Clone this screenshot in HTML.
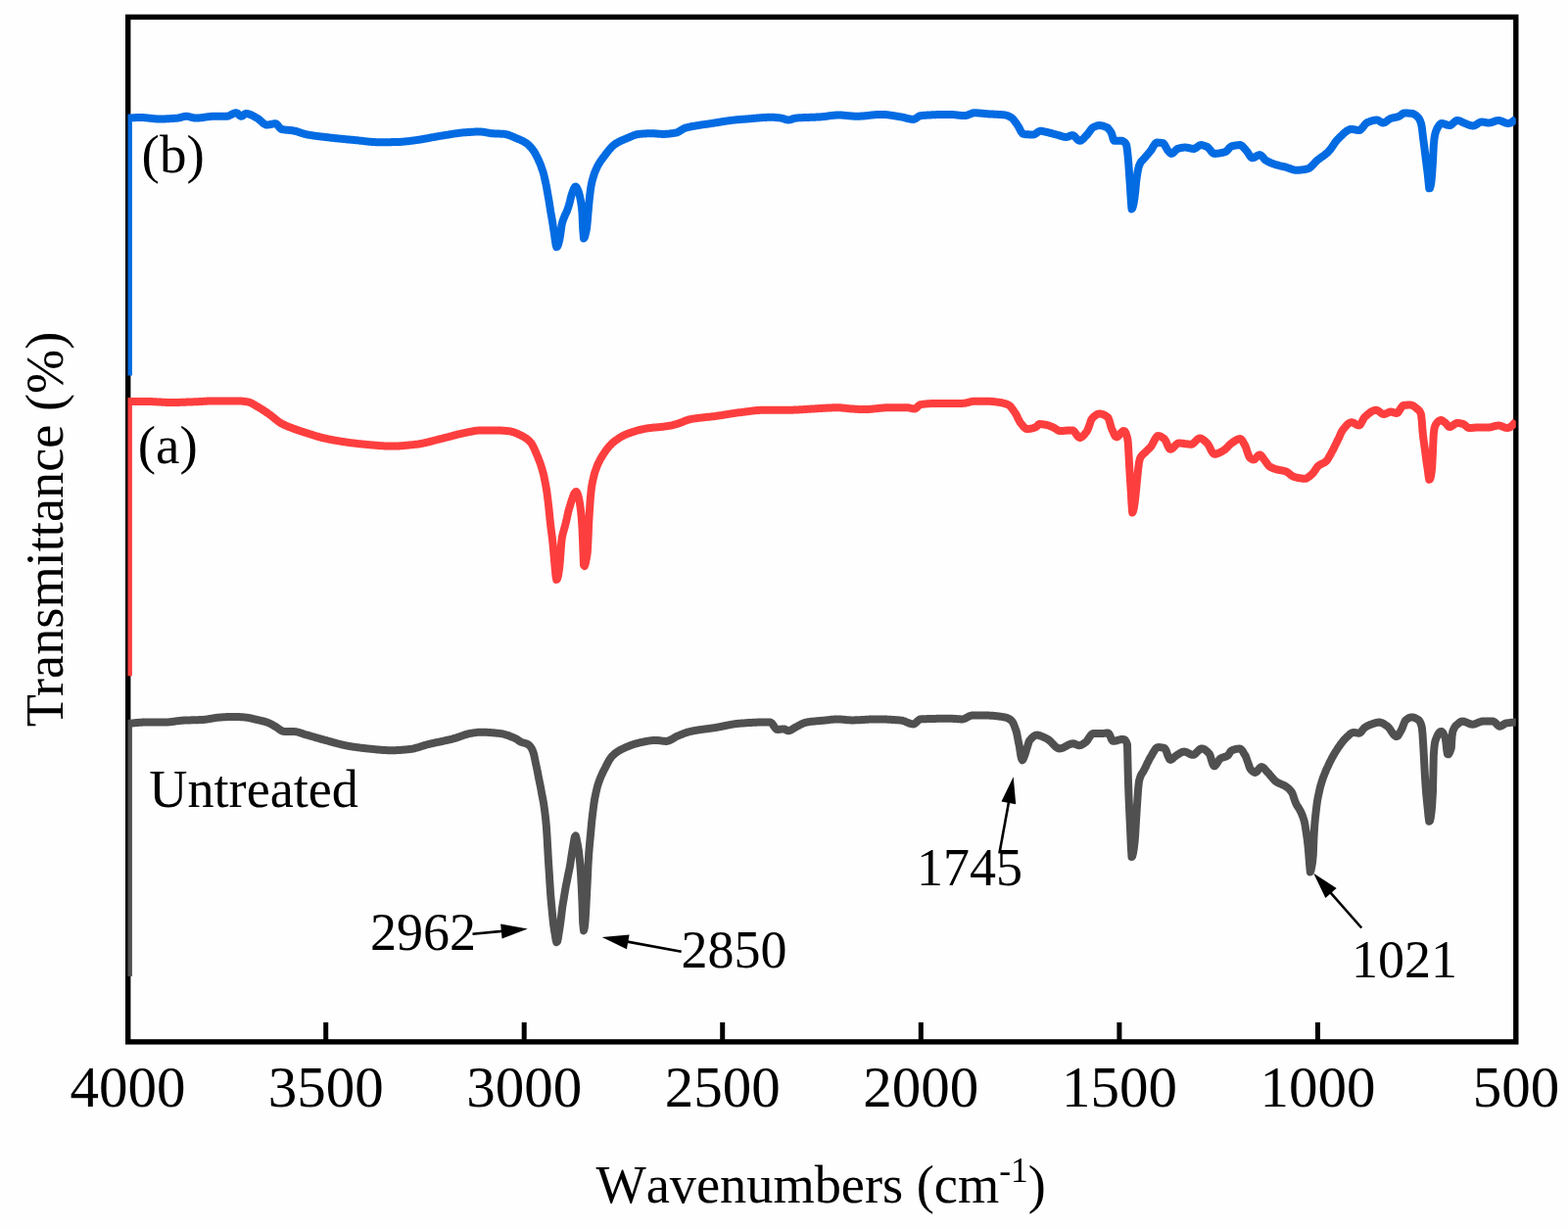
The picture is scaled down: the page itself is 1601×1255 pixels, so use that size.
<!DOCTYPE html><html><head><meta charset="utf-8"><title>FTIR spectra</title><style>html,body{margin:0;padding:0;background:#fefefe;overflow:hidden}svg{display:block}</style></head><body><svg width="1601" height="1255" viewBox="0 0 1601 1255">
<defs><clipPath id="c"><rect x="130.5" y="0" width="1417.3" height="1255"/></clipPath></defs>
<rect width="1601" height="1255" fill="#fefefe"/>
<rect x="130.7" y="17.4" width="1417.10" height="1046.50" fill="none" stroke="#000" stroke-width="5.4"/>
<line x1="332.7" y1="1044" x2="332.7" y2="1063.9" stroke="#000" stroke-width="5"/>
<line x1="535.2" y1="1044" x2="535.2" y2="1063.9" stroke="#000" stroke-width="5"/>
<line x1="737.7" y1="1044" x2="737.7" y2="1063.9" stroke="#000" stroke-width="5"/>
<line x1="940.3" y1="1044" x2="940.3" y2="1063.9" stroke="#000" stroke-width="5"/>
<line x1="1142.9" y1="1044" x2="1142.9" y2="1063.9" stroke="#000" stroke-width="5"/>
<line x1="1345.5" y1="1044" x2="1345.5" y2="1063.9" stroke="#000" stroke-width="5"/>
<g clip-path="url(#c)" fill="none" stroke-width="8" stroke-linejoin="round" stroke-linecap="butt">
<polyline points="130.9,383.6 130.9,120.5 132.5,120.6 133.2,120.5 134.0,120.5 134.8,120.4 135.5,120.3 136.2,120.3 137.0,120.2 137.8,120.2 138.5,120.1 139.2,120.1 140.0,120.1 140.8,120.0 141.5,120.0 142.2,120.0 143.0,120.0 143.8,120.0 144.5,120.0 145.2,120.0 146.0,120.1 146.8,120.1 147.5,120.2 148.2,120.2 149.0,120.3 149.8,120.4 150.5,120.4 151.2,120.5 152.0,120.6 152.8,120.7 153.5,120.8 154.2,120.9 155.0,121.0 155.8,121.1 156.5,121.1 157.2,121.2 158.0,121.3 158.8,121.3 159.5,121.4 160.2,121.4 161.0,121.5 161.8,121.5 162.5,121.5 163.2,121.5 164.0,121.5 164.8,121.5 165.5,121.5 166.2,121.5 167.0,121.4 167.8,121.4 168.5,121.4 169.2,121.4 170.0,121.3 170.8,121.3 171.5,121.3 172.2,121.2 173.0,121.2 173.8,121.1 174.5,121.1 175.2,121.1 176.0,121.0 176.8,121.0 177.5,120.9 178.2,120.8 179.0,120.8 179.8,120.7 180.5,120.7 181.2,120.6 182.0,120.5 182.8,120.4 183.5,120.2 184.2,120.0 185.0,119.8 185.8,119.5 186.5,119.3 187.2,119.1 188.0,119.0 188.8,118.8 189.5,118.8 190.2,118.8 191.0,118.8 191.8,118.9 192.5,119.0 193.2,119.2 194.0,119.4 194.8,119.6 195.5,119.8 196.2,120.0 197.0,120.2 197.8,120.4 198.5,120.5 199.2,120.6 200.0,120.6 200.8,120.6 201.5,120.6 202.2,120.5 203.0,120.5 203.8,120.4 204.5,120.3 205.2,120.2 206.0,120.2 206.8,120.1 207.5,119.9 208.2,119.8 209.0,119.7 209.8,119.6 210.5,119.5 211.2,119.4 212.0,119.3 212.8,119.2 213.5,119.1 214.2,119.0 215.0,118.9 215.8,118.9 216.5,118.8 217.2,118.8 218.0,118.8 218.8,118.8 219.5,118.8 220.2,118.8 221.0,118.8 221.8,118.8 222.5,118.8 223.2,118.8 224.0,118.8 224.8,118.8 225.5,118.8 226.2,118.8 227.0,118.8 227.8,118.8 228.5,118.8 229.2,118.8 230.0,118.8 230.8,118.8 231.5,118.7 232.2,118.7 233.0,118.5 233.8,118.2 234.5,117.9 235.2,117.5 236.0,117.1 236.8,116.7 237.5,116.4 238.2,116.0 239.0,115.7 239.8,115.5 240.5,115.3 241.2,115.2 242.0,115.5 242.8,116.0 243.5,116.7 244.2,117.5 245.0,118.2 245.8,118.7 246.5,118.7 247.2,118.5 248.0,118.0 248.8,117.4 249.5,116.8 250.2,116.3 251.0,116.0 251.8,116.0 252.5,116.1 253.2,116.2 254.0,116.4 254.8,116.7 255.5,117.0 256.2,117.3 257.0,117.6 257.8,118.0 258.5,118.4 259.2,118.8 260.0,119.2 260.8,119.7 261.5,120.1 262.2,120.5 263.0,120.9 263.8,121.4 264.5,122.0 265.2,122.6 266.0,123.3 266.8,124.0 267.5,124.7 268.2,125.4 269.0,126.0 269.8,126.5 270.5,126.9 271.2,127.3 272.0,127.5 272.8,127.5 273.5,127.5 274.2,127.4 275.0,127.3 275.8,127.1 276.5,127.0 277.2,126.8 278.0,126.6 278.8,126.5 279.5,126.4 280.2,126.3 281.0,126.3 281.8,126.3 282.5,126.8 283.2,127.5 284.0,128.4 284.8,129.4 285.5,130.3 286.2,131.1 287.0,131.7 287.8,132.0 288.5,132.1 289.2,132.3 290.0,132.4 290.8,132.5 291.5,132.6 292.2,132.7 293.0,132.7 293.8,132.8 294.5,132.9 295.2,132.9 296.0,133.0 296.8,133.1 297.5,133.1 298.2,133.2 299.0,133.3 299.8,133.5 300.5,133.6 301.2,133.8 302.0,134.0 302.8,134.2 303.5,134.4 304.2,134.6 305.0,134.9 305.8,135.2 306.5,135.4 307.2,135.7 308.0,135.9 308.8,136.2 309.5,136.4 310.2,136.6 311.0,136.9 311.8,137.0 312.5,137.2 313.2,137.3 314.0,137.5 314.8,137.6 315.5,137.8 316.2,137.9 317.0,138.0 317.8,138.1 318.5,138.2 319.2,138.4 320.0,138.5 320.8,138.6 321.5,138.7 322.2,138.8 323.0,138.9 323.8,139.0 324.5,139.1 325.2,139.2 326.0,139.3 326.8,139.4 327.5,139.5 328.2,139.5 329.0,139.6 329.8,139.7 330.5,139.8 331.2,139.9 332.0,140.0 332.8,140.1 333.5,140.1 334.2,140.2 335.0,140.3 335.8,140.4 336.5,140.5 337.2,140.6 338.0,140.7 338.8,140.7 339.5,140.8 340.2,140.9 341.0,141.0 341.8,141.1 342.5,141.2 343.2,141.2 344.0,141.3 344.8,141.4 345.5,141.5 346.2,141.5 347.0,141.6 347.8,141.7 348.5,141.8 349.2,141.8 350.0,141.9 350.8,142.0 351.5,142.1 352.2,142.1 353.0,142.2 353.8,142.3 354.5,142.4 355.2,142.4 356.0,142.5 356.8,142.6 357.5,142.6 358.2,142.7 359.0,142.8 359.8,142.8 360.5,142.9 361.2,143.0 362.0,143.1 362.8,143.1 363.5,143.2 364.2,143.3 365.0,143.3 365.8,143.4 366.5,143.5 367.2,143.6 368.0,143.7 368.8,143.8 369.5,143.8 370.2,143.9 371.0,144.0 371.8,144.1 372.5,144.2 373.2,144.3 374.0,144.4 374.8,144.4 375.5,144.5 376.2,144.6 377.0,144.7 377.8,144.7 378.5,144.8 379.2,144.9 380.0,144.9 380.8,145.0 381.5,145.0 382.2,145.1 383.0,145.1 383.8,145.2 384.5,145.2 385.2,145.2 386.0,145.2 386.8,145.2 387.5,145.2 388.2,145.2 389.0,145.2 389.8,145.2 390.5,145.2 391.2,145.2 392.0,145.2 392.8,145.2 393.5,145.2 394.2,145.2 395.0,145.2 395.8,145.2 396.5,145.2 397.2,145.2 398.0,145.2 398.8,145.2 399.5,145.1 400.2,145.1 401.0,145.1 401.8,145.1 402.5,145.1 403.2,145.1 404.0,145.1 404.8,145.0 405.5,145.0 406.2,145.0 407.0,145.0 407.8,144.9 408.5,144.9 409.2,144.9 410.0,144.8 410.8,144.8 411.5,144.7 412.2,144.6 413.0,144.6 413.8,144.5 414.5,144.4 415.2,144.3 416.0,144.2 416.8,144.2 417.5,144.1 418.2,144.0 419.0,143.9 419.8,143.8 420.5,143.7 421.2,143.6 422.0,143.5 422.8,143.4 423.5,143.3 424.2,143.2 425.0,143.1 425.8,143.0 426.5,142.9 427.2,142.8 428.0,142.7 428.8,142.6 429.5,142.4 430.2,142.3 431.0,142.2 431.8,142.1 432.5,141.9 433.2,141.8 434.0,141.7 434.8,141.5 435.5,141.4 436.2,141.3 437.0,141.1 437.8,141.0 438.5,140.8 439.2,140.7 440.0,140.5 440.8,140.4 441.5,140.2 442.2,140.1 443.0,140.0 443.8,139.8 444.5,139.7 445.2,139.6 446.0,139.4 446.8,139.3 447.5,139.2 448.2,139.0 449.0,138.9 449.8,138.8 450.5,138.7 451.2,138.6 452.0,138.4 452.8,138.3 453.5,138.2 454.2,138.1 455.0,137.9 455.8,137.8 456.5,137.7 457.2,137.6 458.0,137.5 458.8,137.3 459.5,137.2 460.2,137.1 461.0,137.0 461.8,136.9 462.5,136.7 463.2,136.6 464.0,136.5 464.8,136.4 465.5,136.3 466.2,136.2 467.0,136.1 467.8,136.0 468.5,135.9 469.2,135.8 470.0,135.7 470.8,135.6 471.5,135.6 472.2,135.5 473.0,135.4 473.8,135.3 474.5,135.3 475.2,135.2 476.0,135.2 476.8,135.1 477.5,135.1 478.2,135.0 479.0,135.0 479.8,134.9 480.5,134.9 481.2,134.8 482.0,134.8 482.8,134.7 483.5,134.7 484.2,134.6 485.0,134.6 485.8,134.6 486.5,134.6 487.2,134.5 488.0,134.5 488.8,134.5 489.5,134.5 490.2,134.5 491.0,134.5 491.8,134.6 492.5,134.7 493.2,134.7 494.0,134.9 494.8,135.0 495.5,135.1 496.2,135.3 497.0,135.4 497.8,135.5 498.5,135.7 499.2,135.8 500.0,135.9 500.8,136.1 501.5,136.2 502.2,136.2 503.0,136.3 503.8,136.3 504.5,136.4 505.2,136.4 506.0,136.4 506.8,136.5 507.5,136.5 508.2,136.5 509.0,136.6 509.8,136.6 510.5,136.6 511.2,136.7 512.0,136.7 512.8,136.7 513.5,136.8 514.2,136.8 515.0,136.9 515.8,137.0 516.5,137.1 517.2,137.3 518.0,137.5 518.8,137.7 519.5,137.9 520.2,138.2 521.0,138.5 521.8,138.8 522.5,139.1 523.2,139.4 524.0,139.7 524.8,140.1 525.5,140.4 526.2,140.7 527.0,141.0 527.8,141.4 528.5,141.7 529.2,142.0 530.0,142.3 530.8,142.6 531.5,142.9 532.2,143.3 533.0,143.7 533.8,144.0 534.5,144.4 535.2,144.8 536.0,145.3 536.8,145.8 537.5,146.2 538.2,146.8 539.0,147.4 539.8,148.1 540.5,148.8 541.2,149.6 542.0,150.4 542.8,151.3 543.5,152.2 544.2,153.2 545.0,154.3 545.8,155.5 546.5,156.7 547.2,158.1 548.0,159.6 548.8,161.1 549.5,162.7 550.2,164.3 551.0,166.0 551.8,167.9 552.5,169.8 553.2,171.9 554.0,174.2 554.8,176.6 555.5,179.4 556.2,182.5 557.0,186.0 557.8,189.8 558.5,193.7 559.2,197.7 560.0,202.1 560.8,206.7 561.5,211.3 562.2,215.9 563.0,220.4 563.8,225.0 564.5,229.5 565.2,234.0 566.0,239.4 566.8,245.0 567.5,249.6 568.2,252.1 569.0,251.9 569.8,250.3 570.5,247.8 571.2,245.0 572.0,240.7 572.8,235.0 573.5,229.9 574.2,226.9 575.0,224.5 575.8,222.5 576.5,220.7 577.2,219.1 578.0,217.5 578.8,215.8 579.5,213.9 580.2,211.7 581.0,209.1 581.8,206.2 582.5,203.3 583.2,200.4 584.0,197.8 584.8,195.6 585.5,193.8 586.2,192.1 587.0,190.9 587.8,190.5 588.5,191.1 589.2,192.3 590.0,194.0 590.8,196.0 591.5,198.3 592.2,201.3 593.0,205.3 593.8,210.6 594.5,217.4 595.2,234.0 596.0,243.4 596.8,242.4 597.5,240.3 598.2,237.3 599.0,233.5 599.8,225.9 600.5,217.3 601.2,209.4 602.0,201.4 602.8,194.7 603.5,190.2 604.2,186.5 605.0,183.4 605.8,180.8 606.5,178.4 607.2,176.3 608.0,174.4 608.8,172.6 609.5,171.0 610.2,169.5 611.0,168.2 611.8,166.9 612.5,165.7 613.2,164.5 614.0,163.4 614.8,162.4 615.5,161.4 616.2,160.4 617.0,159.4 617.8,158.4 618.5,157.4 619.2,156.5 620.0,155.5 620.8,154.5 621.5,153.6 622.2,152.7 623.0,151.8 623.8,151.0 624.5,150.1 625.2,149.4 626.0,148.7 626.8,148.1 627.5,147.5 628.2,147.0 629.0,146.5 629.8,146.0 630.5,145.6 631.2,145.2 632.0,144.8 632.8,144.4 633.5,144.0 634.2,143.7 635.0,143.3 635.8,143.0 636.5,142.7 637.2,142.4 638.0,142.1 638.8,141.8 639.5,141.5 640.2,141.1 641.0,140.8 641.8,140.5 642.5,140.2 643.2,139.8 644.0,139.5 644.8,139.2 645.5,138.9 646.2,138.6 647.0,138.3 647.8,138.0 648.5,137.8 649.2,137.5 650.0,137.3 650.8,137.2 651.5,137.0 652.2,136.9 653.0,136.9 653.8,136.8 654.5,136.7 655.2,136.7 656.0,136.6 656.8,136.6 657.5,136.5 658.2,136.5 659.0,136.4 659.8,136.4 660.5,136.3 661.2,136.3 662.0,136.3 662.8,136.3 663.5,136.3 664.2,136.3 665.0,136.2 665.8,136.3 666.5,136.3 667.2,136.3 668.0,136.3 668.8,136.4 669.5,136.4 670.2,136.5 671.0,136.6 671.8,136.6 672.5,136.7 673.2,136.7 674.0,136.8 674.8,136.8 675.5,136.9 676.2,136.9 677.0,136.9 677.8,136.9 678.5,136.9 679.2,136.9 680.0,136.8 680.8,136.8 681.5,136.7 682.2,136.7 683.0,136.6 683.8,136.5 684.5,136.4 685.2,136.3 686.0,136.2 686.8,136.1 687.5,136.0 688.2,135.9 689.0,135.8 689.8,135.6 690.5,135.5 691.2,135.3 692.0,134.9 692.8,134.6 693.5,134.2 694.2,133.7 695.0,133.2 695.8,132.8 696.5,132.3 697.2,131.8 698.0,131.4 698.8,131.1 699.5,130.8 700.2,130.5 701.0,130.3 701.8,130.1 702.5,129.9 703.2,129.8 704.0,129.6 704.8,129.5 705.5,129.3 706.2,129.2 707.0,129.0 707.8,128.9 708.5,128.8 709.2,128.6 710.0,128.5 710.8,128.4 711.5,128.3 712.2,128.1 713.0,128.0 713.8,127.9 714.5,127.8 715.2,127.7 716.0,127.5 716.8,127.4 717.5,127.3 718.2,127.2 719.0,127.1 719.8,127.0 720.5,126.9 721.2,126.8 722.0,126.7 722.8,126.6 723.5,126.5 724.2,126.4 725.0,126.2 725.8,126.1 726.5,126.0 727.2,125.9 728.0,125.8 728.8,125.7 729.5,125.5 730.2,125.4 731.0,125.3 731.8,125.2 732.5,125.1 733.2,124.9 734.0,124.8 734.8,124.7 735.5,124.6 736.2,124.4 737.0,124.3 737.8,124.2 738.5,124.1 739.2,123.9 740.0,123.8 740.8,123.7 741.5,123.6 742.2,123.5 743.0,123.4 743.8,123.3 744.5,123.2 745.2,123.1 746.0,123.0 746.8,122.9 747.5,122.8 748.2,122.7 749.0,122.6 749.8,122.5 750.5,122.5 751.2,122.4 752.0,122.3 752.8,122.2 753.5,122.2 754.2,122.1 755.0,122.1 755.8,122.0 756.5,121.9 757.2,121.9 758.0,121.8 758.8,121.8 759.5,121.7 760.2,121.7 761.0,121.6 761.8,121.6 762.5,121.5 763.2,121.4 764.0,121.4 764.8,121.3 765.5,121.3 766.2,121.2 767.0,121.1 767.8,121.1 768.5,121.0 769.2,120.9 770.0,120.8 770.8,120.8 771.5,120.7 772.2,120.6 773.0,120.6 773.8,120.5 774.5,120.4 775.2,120.4 776.0,120.3 776.8,120.2 777.5,120.2 778.2,120.1 779.0,120.1 779.8,120.0 780.5,120.0 781.2,119.9 782.0,119.9 782.8,119.9 783.5,119.8 784.2,119.8 785.0,119.8 785.8,119.8 786.5,119.8 787.2,119.8 788.0,119.8 788.8,119.8 789.5,119.8 790.2,119.8 791.0,119.9 791.8,119.9 792.5,120.0 793.2,120.1 794.0,120.2 794.8,120.3 795.5,120.3 796.2,120.4 797.0,120.5 797.8,120.6 798.5,120.8 799.2,121.0 800.0,121.2 800.8,121.5 801.5,121.8 802.2,122.0 803.0,122.2 803.8,122.4 804.5,122.5 805.2,122.5 806.0,122.4 806.8,122.3 807.5,122.1 808.2,121.8 809.0,121.5 809.8,121.3 810.5,121.0 811.2,120.8 812.0,120.7 812.8,120.6 813.5,120.5 814.2,120.5 815.0,120.4 815.8,120.3 816.5,120.3 817.2,120.2 818.0,120.2 818.8,120.2 819.5,120.1 820.2,120.1 821.0,120.1 821.8,120.0 822.5,120.0 823.2,120.0 824.0,120.0 824.8,119.9 825.5,119.9 826.2,119.9 827.0,119.9 827.8,119.8 828.5,119.8 829.2,119.8 830.0,119.8 830.8,119.7 831.5,119.7 832.2,119.7 833.0,119.6 833.8,119.6 834.5,119.6 835.2,119.5 836.0,119.5 836.8,119.4 837.5,119.4 838.2,119.3 839.0,119.3 839.8,119.2 840.5,119.1 841.2,119.0 842.0,119.0 842.8,118.9 843.5,118.8 844.2,118.7 845.0,118.6 845.8,118.4 846.5,118.3 847.2,118.2 848.0,118.1 848.8,118.0 849.5,118.0 850.2,117.9 851.0,117.8 851.8,117.7 852.5,117.7 853.2,117.6 854.0,117.6 854.8,117.5 855.5,117.5 856.2,117.5 857.0,117.5 857.8,117.5 858.5,117.5 859.2,117.6 860.0,117.6 860.8,117.7 861.5,117.7 862.2,117.8 863.0,117.9 863.8,117.9 864.5,118.0 865.2,118.1 866.0,118.2 866.8,118.2 867.5,118.3 868.2,118.4 869.0,118.4 869.8,118.5 870.5,118.6 871.2,118.6 872.0,118.7 872.8,118.7 873.5,118.7 874.2,118.7 875.0,118.8 875.8,118.7 876.5,118.7 877.2,118.7 878.0,118.7 878.8,118.6 879.5,118.6 880.2,118.5 881.0,118.5 881.8,118.4 882.5,118.4 883.2,118.3 884.0,118.2 884.8,118.1 885.5,118.0 886.2,118.0 887.0,117.9 887.8,117.8 888.5,117.7 889.2,117.6 890.0,117.6 890.8,117.5 891.5,117.4 892.2,117.3 893.0,117.3 893.8,117.2 894.5,117.1 895.2,117.1 896.0,117.0 896.8,117.0 897.5,117.0 898.2,116.9 899.0,116.9 899.8,116.9 900.5,116.9 901.2,116.9 902.0,116.9 902.8,117.0 903.5,117.0 904.2,117.1 905.0,117.1 905.8,117.2 906.5,117.3 907.2,117.4 908.0,117.5 908.8,117.6 909.5,117.7 910.2,117.8 911.0,117.9 911.8,118.0 912.5,118.2 913.2,118.3 914.0,118.4 914.8,118.5 915.5,118.7 916.2,118.8 917.0,118.9 917.8,119.0 918.5,119.2 919.2,119.3 920.0,119.4 920.8,119.5 921.5,119.7 922.2,119.9 923.0,120.0 923.8,120.2 924.5,120.4 925.2,120.6 926.0,120.8 926.8,121.0 927.5,121.2 928.2,121.4 929.0,121.5 929.8,121.7 930.5,121.8 931.2,121.8 932.0,121.9 932.8,121.9 933.5,121.7 934.2,121.4 935.0,121.0 935.8,120.4 936.5,119.9 937.2,119.4 938.0,118.9 938.8,118.5 939.5,118.2 940.2,118.1 941.0,118.0 941.8,117.9 942.5,117.9 943.2,117.8 944.0,117.8 944.8,117.7 945.5,117.7 946.2,117.6 947.0,117.6 947.8,117.5 948.5,117.5 949.2,117.4 950.0,117.4 950.8,117.4 951.5,117.3 952.2,117.3 953.0,117.2 953.8,117.2 954.5,117.2 955.2,117.2 956.0,117.1 956.8,117.1 957.5,117.1 958.2,117.1 959.0,117.0 959.8,117.0 960.5,117.0 961.2,117.0 962.0,117.0 962.8,117.0 963.5,116.9 964.2,116.9 965.0,116.9 965.8,116.9 966.5,116.9 967.2,116.9 968.0,116.9 968.8,116.9 969.5,116.9 970.2,116.9 971.0,116.9 971.8,116.9 972.5,117.0 973.2,117.0 974.0,117.1 974.8,117.2 975.5,117.3 976.2,117.4 977.0,117.4 977.8,117.5 978.5,117.6 979.2,117.7 980.0,117.8 980.8,117.9 981.5,117.9 982.2,118.0 983.0,118.0 983.8,118.1 984.5,118.1 985.2,118.1 986.0,118.0 986.8,117.9 987.5,117.7 988.2,117.4 989.0,117.1 989.8,116.8 990.5,116.5 991.2,116.2 992.0,115.9 992.8,115.6 993.5,115.4 994.2,115.3 995.0,115.2 995.8,115.3 996.5,115.3 997.2,115.3 998.0,115.4 998.8,115.4 999.5,115.5 1000.2,115.5 1001.0,115.6 1001.8,115.7 1002.5,115.8 1003.2,115.8 1004.0,115.9 1004.8,116.0 1005.5,116.1 1006.2,116.1 1007.0,116.2 1007.8,116.3 1008.5,116.3 1009.2,116.4 1010.0,116.4 1010.8,116.5 1011.5,116.5 1012.2,116.5 1013.0,116.6 1013.8,116.6 1014.5,116.6 1015.2,116.7 1016.0,116.7 1016.8,116.7 1017.5,116.8 1018.2,116.8 1019.0,116.9 1019.8,116.9 1020.5,117.0 1021.2,117.0 1022.0,117.1 1022.8,117.1 1023.5,117.2 1024.2,117.3 1025.0,117.3 1025.8,117.4 1026.5,117.5 1027.2,117.7 1028.0,117.9 1028.8,118.1 1029.5,118.4 1030.2,118.8 1031.0,119.2 1031.8,119.6 1032.5,120.0 1033.2,120.5 1034.0,121.2 1034.8,122.1 1035.5,123.0 1036.2,124.0 1037.0,125.1 1037.8,126.1 1038.5,127.2 1039.2,128.2 1040.0,129.5 1040.8,131.0 1041.5,132.4 1042.2,133.8 1043.0,135.1 1043.8,136.1 1044.5,136.7 1045.2,136.9 1046.0,137.0 1046.8,137.1 1047.5,137.2 1048.2,137.2 1049.0,137.3 1049.8,137.3 1050.5,137.4 1051.2,137.4 1052.0,137.4 1052.8,137.5 1053.5,137.5 1054.2,137.5 1055.0,137.5 1055.8,137.4 1056.5,137.1 1057.2,136.7 1058.0,136.2 1058.8,135.6 1059.5,135.1 1060.2,134.6 1061.0,134.1 1061.8,133.9 1062.5,133.8 1063.2,133.8 1064.0,133.9 1064.8,134.1 1065.5,134.2 1066.2,134.4 1067.0,134.6 1067.8,134.7 1068.5,134.9 1069.2,135.1 1070.0,135.2 1070.8,135.4 1071.5,135.6 1072.2,135.8 1073.0,136.0 1073.8,136.2 1074.5,136.4 1075.2,136.6 1076.0,136.8 1076.8,137.0 1077.5,137.2 1078.2,137.4 1079.0,137.6 1079.8,137.8 1080.5,138.0 1081.2,138.2 1082.0,138.5 1082.8,138.7 1083.5,139.0 1084.2,139.2 1085.0,139.4 1085.8,139.6 1086.5,139.8 1087.2,139.9 1088.0,140.0 1088.8,140.0 1089.5,139.9 1090.2,139.7 1091.0,139.4 1091.8,139.1 1092.5,138.8 1093.2,138.5 1094.0,138.2 1094.8,138.1 1095.5,138.2 1096.2,138.5 1097.0,139.1 1097.8,139.8 1098.5,140.6 1099.2,141.5 1100.0,142.3 1100.8,143.0 1101.5,143.5 1102.2,143.7 1103.0,143.7 1103.8,143.5 1104.5,143.0 1105.2,142.5 1106.0,141.8 1106.8,141.0 1107.5,140.2 1108.2,139.4 1109.0,138.5 1109.8,137.8 1110.5,137.0 1111.2,136.0 1112.0,135.0 1112.8,133.9 1113.5,132.8 1114.2,131.8 1115.0,131.0 1115.8,130.3 1116.5,129.9 1117.2,129.5 1118.0,129.2 1118.8,128.9 1119.5,128.6 1120.2,128.4 1121.0,128.2 1121.8,128.1 1122.5,128.1 1123.2,128.1 1124.0,128.2 1124.8,128.3 1125.5,128.5 1126.2,128.6 1127.0,128.9 1127.8,129.1 1128.5,129.4 1129.2,129.7 1130.0,130.0 1130.8,130.4 1131.5,131.1 1132.2,131.9 1133.0,132.9 1133.8,134.1 1134.5,135.3 1135.2,136.8 1136.0,139.6 1136.8,142.4 1137.5,143.8 1138.2,143.8 1139.0,143.8 1139.8,143.8 1140.5,143.8 1141.2,143.8 1142.0,143.8 1142.8,143.8 1143.5,143.8 1144.2,143.8 1145.0,143.8 1145.8,143.8 1146.5,144.1 1147.2,144.5 1148.0,145.1 1148.8,145.8 1149.5,146.8 1150.2,148.2 1151.0,153.5 1151.8,161.0 1152.5,169.6 1153.2,180.3 1154.0,191.4 1154.8,205.0 1155.5,213.4 1156.2,212.7 1157.0,210.0 1157.8,206.1 1158.5,201.6 1159.2,195.6 1160.0,186.8 1160.8,180.3 1161.5,176.0 1162.2,172.4 1163.0,169.5 1163.8,167.5 1164.5,166.1 1165.2,165.0 1166.0,164.1 1166.8,163.4 1167.5,162.6 1168.2,161.8 1169.0,160.9 1169.8,160.0 1170.5,159.1 1171.2,158.3 1172.0,157.4 1172.8,156.5 1173.5,155.6 1174.2,154.7 1175.0,153.8 1175.8,152.7 1176.5,151.5 1177.2,150.2 1178.0,148.9 1178.8,147.7 1179.5,146.7 1180.2,146.0 1181.0,145.6 1181.8,145.6 1182.5,145.6 1183.2,145.7 1184.0,145.7 1184.8,145.8 1185.5,145.9 1186.2,146.0 1187.0,146.2 1187.8,146.3 1188.5,147.0 1189.2,148.1 1190.0,149.5 1190.8,150.9 1191.5,152.3 1192.2,153.5 1193.0,154.3 1193.8,155.2 1194.5,155.9 1195.2,156.6 1196.0,156.9 1196.8,156.8 1197.5,156.4 1198.2,155.8 1199.0,155.0 1199.8,154.2 1200.5,153.4 1201.2,152.7 1202.0,152.1 1202.8,151.8 1203.5,151.6 1204.2,151.4 1205.0,151.2 1205.8,151.1 1206.5,150.9 1207.2,150.8 1208.0,150.7 1208.8,150.6 1209.5,150.6 1210.2,150.6 1211.0,150.6 1211.8,150.7 1212.5,150.9 1213.2,151.0 1214.0,151.2 1214.8,151.3 1215.5,151.5 1216.2,151.6 1217.0,151.8 1217.8,151.9 1218.5,151.9 1219.2,151.9 1220.0,151.6 1220.8,151.2 1221.5,150.7 1222.2,150.2 1223.0,149.6 1223.8,149.1 1224.5,148.6 1225.2,148.3 1226.0,148.1 1226.8,148.1 1227.5,148.2 1228.2,148.4 1229.0,148.6 1229.8,148.8 1230.5,149.1 1231.2,149.4 1232.0,149.8 1232.8,150.1 1233.5,150.7 1234.2,151.4 1235.0,152.3 1235.8,153.2 1236.5,154.2 1237.2,155.1 1238.0,155.9 1238.8,156.5 1239.5,156.8 1240.2,156.9 1241.0,156.9 1241.8,156.8 1242.5,156.8 1243.2,156.7 1244.0,156.6 1244.8,156.5 1245.5,156.4 1246.2,156.3 1247.0,156.1 1247.8,155.9 1248.5,155.8 1249.2,155.6 1250.0,155.4 1250.8,155.1 1251.5,154.9 1252.2,154.4 1253.0,153.7 1253.8,152.9 1254.5,152.0 1255.2,151.1 1256.0,150.4 1256.8,149.8 1257.5,149.4 1258.2,149.2 1259.0,149.0 1259.8,148.9 1260.5,148.7 1261.2,148.6 1262.0,148.4 1262.8,148.3 1263.5,148.2 1264.2,148.2 1265.0,148.1 1265.8,148.1 1266.5,148.1 1267.2,148.3 1268.0,148.8 1268.8,149.5 1269.5,150.3 1270.2,151.1 1271.0,152.0 1271.8,152.9 1272.5,153.8 1273.2,154.6 1274.0,155.7 1274.8,156.9 1275.5,158.1 1276.2,159.2 1277.0,160.2 1277.8,160.9 1278.5,161.2 1279.2,161.2 1280.0,161.0 1280.8,160.7 1281.5,160.3 1282.2,159.8 1283.0,159.4 1283.8,158.9 1284.5,158.5 1285.2,158.3 1286.0,158.1 1286.8,158.2 1287.5,158.6 1288.2,159.2 1289.0,160.0 1289.8,160.9 1290.5,161.8 1291.2,162.7 1292.0,163.4 1292.8,163.9 1293.5,164.3 1294.2,164.7 1295.0,165.1 1295.8,165.5 1296.5,165.8 1297.2,166.2 1298.0,166.5 1298.8,166.8 1299.5,167.1 1300.2,167.3 1301.0,167.6 1301.8,167.9 1302.5,168.1 1303.2,168.3 1304.0,168.5 1304.8,168.7 1305.5,168.9 1306.2,169.1 1307.0,169.3 1307.8,169.5 1308.5,169.6 1309.2,169.8 1310.0,170.0 1310.8,170.2 1311.5,170.3 1312.2,170.5 1313.0,170.7 1313.8,171.0 1314.5,171.2 1315.2,171.5 1316.0,171.8 1316.8,172.0 1317.5,172.3 1318.2,172.6 1319.0,172.8 1319.8,173.1 1320.5,173.3 1321.2,173.5 1322.0,173.6 1322.8,173.7 1323.5,173.7 1324.2,173.7 1325.0,173.7 1325.8,173.7 1326.5,173.7 1327.2,173.6 1328.0,173.5 1328.8,173.5 1329.5,173.4 1330.2,173.3 1331.0,173.2 1331.8,173.1 1332.5,173.0 1333.2,172.8 1334.0,172.7 1334.8,172.5 1335.5,172.4 1336.2,172.0 1337.0,171.6 1337.8,171.0 1338.5,170.4 1339.2,169.7 1340.0,168.9 1340.8,168.1 1341.5,167.3 1342.2,166.5 1343.0,165.7 1343.8,164.9 1344.5,164.2 1345.2,163.5 1346.0,162.9 1346.8,162.4 1347.5,161.8 1348.2,161.3 1349.0,160.7 1349.8,160.2 1350.5,159.7 1351.2,159.1 1352.0,158.6 1352.8,158.0 1353.5,157.4 1354.2,156.8 1355.0,156.2 1355.8,155.5 1356.5,154.7 1357.2,153.9 1358.0,153.0 1358.8,152.0 1359.5,151.0 1360.2,149.9 1361.0,148.8 1361.8,147.7 1362.5,146.6 1363.2,145.5 1364.0,144.5 1364.8,143.5 1365.5,142.7 1366.2,141.9 1367.0,141.2 1367.8,140.4 1368.5,139.7 1369.2,138.9 1370.0,138.2 1370.8,137.5 1371.5,136.7 1372.2,136.0 1373.0,135.4 1373.8,134.7 1374.5,134.2 1375.2,133.6 1376.0,133.2 1376.8,132.8 1377.5,132.4 1378.2,132.2 1379.0,132.0 1379.8,131.9 1380.5,131.9 1381.2,132.0 1382.0,132.1 1382.8,132.3 1383.5,132.4 1384.2,132.6 1385.0,132.8 1385.8,132.9 1386.5,133.0 1387.2,133.1 1388.0,133.0 1388.8,132.7 1389.5,132.2 1390.2,131.4 1391.0,130.6 1391.8,129.7 1392.5,128.7 1393.2,127.7 1394.0,126.8 1394.8,126.1 1395.5,125.4 1396.2,125.0 1397.0,124.7 1397.8,124.4 1398.5,124.1 1399.2,123.9 1400.0,123.6 1400.8,123.4 1401.5,123.2 1402.2,123.0 1403.0,122.8 1403.8,122.7 1404.5,122.6 1405.2,122.5 1406.0,122.5 1406.8,122.6 1407.5,123.0 1408.2,123.4 1409.0,124.0 1409.8,124.6 1410.5,125.0 1411.2,125.4 1412.0,125.5 1412.8,125.4 1413.5,125.2 1414.2,124.8 1415.0,124.3 1415.8,123.8 1416.5,123.2 1417.2,122.6 1418.0,122.1 1418.8,121.6 1419.5,121.2 1420.2,120.9 1421.0,120.7 1421.8,120.5 1422.5,120.3 1423.2,120.2 1424.0,120.0 1424.8,119.9 1425.5,119.7 1426.2,119.5 1427.0,119.3 1427.8,119.1 1428.5,118.8 1429.2,118.3 1430.0,117.8 1430.8,117.2 1431.5,116.6 1432.2,116.1 1433.0,115.7 1433.8,115.5 1434.5,115.5 1435.2,115.5 1436.0,115.5 1436.8,115.6 1437.5,115.6 1438.2,115.6 1439.0,115.7 1439.8,115.8 1440.5,115.8 1441.2,115.9 1442.0,116.0 1442.8,116.2 1443.5,116.4 1444.2,116.8 1445.0,117.3 1445.8,117.9 1446.5,118.5 1447.2,119.2 1448.0,120.0 1448.8,120.9 1449.5,122.2 1450.2,123.8 1451.0,126.0 1451.8,130.1 1452.5,136.0 1453.2,141.9 1454.0,147.8 1454.8,153.9 1455.5,160.0 1456.2,165.9 1457.0,171.9 1457.8,177.9 1458.5,185.2 1459.2,192.3 1460.0,192.3 1460.8,189.4 1461.5,185.0 1462.2,176.9 1463.0,165.0 1463.8,148.5 1464.5,141.4 1465.2,137.3 1466.0,134.5 1466.8,132.5 1467.5,131.0 1468.2,129.7 1469.0,128.5 1469.8,127.5 1470.5,126.7 1471.2,126.2 1472.0,126.0 1472.8,126.0 1473.5,126.2 1474.2,126.4 1475.0,126.6 1475.8,126.9 1476.5,127.2 1477.2,127.5 1478.0,127.7 1478.8,127.9 1479.5,128.0 1480.2,128.0 1481.0,127.8 1481.8,127.4 1482.5,126.8 1483.2,126.2 1484.0,125.5 1484.8,124.8 1485.5,124.2 1486.2,123.6 1487.0,123.2 1487.8,123.0 1488.5,123.0 1489.2,123.1 1490.0,123.3 1490.8,123.6 1491.5,123.9 1492.2,124.3 1493.0,124.7 1493.8,125.0 1494.5,125.4 1495.2,125.7 1496.0,126.0 1496.8,126.3 1497.5,126.6 1498.2,126.9 1499.0,127.2 1499.8,127.5 1500.5,127.8 1501.2,128.0 1502.0,128.2 1502.8,128.4 1503.5,128.5 1504.2,128.5 1505.0,128.4 1505.8,128.1 1506.5,127.7 1507.2,127.3 1508.0,126.8 1508.8,126.3 1509.5,125.8 1510.2,125.4 1511.0,125.0 1511.8,124.7 1512.5,124.5 1513.2,124.5 1514.0,124.6 1514.8,124.7 1515.5,124.8 1516.2,124.9 1517.0,125.1 1517.8,125.3 1518.5,125.4 1519.2,125.5 1520.0,125.5 1520.8,125.5 1521.5,125.3 1522.2,125.2 1523.0,125.0 1523.8,124.7 1524.5,124.4 1525.2,124.2 1526.0,123.9 1526.8,123.6 1527.5,123.4 1528.2,123.2 1529.0,123.1 1529.8,123.0 1530.5,123.0 1531.2,123.1 1532.0,123.3 1532.8,123.6 1533.5,123.8 1534.2,124.2 1535.0,124.5 1535.8,124.8 1536.5,125.2 1537.2,125.4 1538.0,125.7 1538.8,125.9 1539.5,126.0 1540.2,126.0 1541.0,125.9 1541.8,125.7 1542.5,125.4 1543.2,125.0 1544.0,124.5 1544.8,124.0 1545.5,123.4 1546.2,122.7 1547.0,122.0 1547.8,121.3 1548.0,121.0" stroke="#036be2"/>
<polyline points="130.9,690.3 130.9,410.0 132.5,410.0 133.2,410.0 134.0,410.0 134.8,410.0 135.5,410.0 136.2,410.0 137.0,410.0 137.8,410.0 138.5,410.0 139.2,410.0 140.0,410.0 140.8,410.0 141.5,410.0 142.2,410.0 143.0,410.0 143.8,410.0 144.5,410.0 145.2,410.0 146.0,410.0 146.8,410.0 147.5,410.0 148.2,410.0 149.0,410.0 149.8,410.0 150.5,410.0 151.2,410.0 152.0,410.0 152.8,410.0 153.5,410.1 154.2,410.1 155.0,410.1 155.8,410.1 156.5,410.2 157.2,410.2 158.0,410.2 158.8,410.3 159.5,410.3 160.2,410.4 161.0,410.4 161.8,410.5 162.5,410.5 163.2,410.5 164.0,410.6 164.8,410.6 165.5,410.7 166.2,410.7 167.0,410.8 167.8,410.8 168.5,410.8 169.2,410.9 170.0,410.9 170.8,410.9 171.5,410.9 172.2,411.0 173.0,411.0 173.8,411.0 174.5,411.0 175.2,411.0 176.0,411.0 176.8,411.0 177.5,411.0 178.2,411.0 179.0,411.0 179.8,411.0 180.5,410.9 181.2,410.9 182.0,410.9 182.8,410.9 183.5,410.9 184.2,410.8 185.0,410.8 185.8,410.8 186.5,410.8 187.2,410.7 188.0,410.7 188.8,410.7 189.5,410.7 190.2,410.6 191.0,410.6 191.8,410.6 192.5,410.5 193.2,410.5 194.0,410.5 194.8,410.5 195.5,410.4 196.2,410.4 197.0,410.4 197.8,410.3 198.5,410.3 199.2,410.3 200.0,410.2 200.8,410.2 201.5,410.2 202.2,410.2 203.0,410.1 203.8,410.1 204.5,410.0 205.2,410.0 206.0,409.9 206.8,409.9 207.5,409.9 208.2,409.8 209.0,409.8 209.8,409.7 210.5,409.7 211.2,409.6 212.0,409.6 212.8,409.6 213.5,409.5 214.2,409.5 215.0,409.5 215.8,409.4 216.5,409.4 217.2,409.4 218.0,409.4 218.8,409.4 219.5,409.4 220.2,409.4 221.0,409.4 221.8,409.4 222.5,409.4 223.2,409.4 224.0,409.4 224.8,409.4 225.5,409.4 226.2,409.4 227.0,409.4 227.8,409.4 228.5,409.4 229.2,409.4 230.0,409.4 230.8,409.4 231.5,409.4 232.2,409.4 233.0,409.4 233.8,409.4 234.5,409.4 235.2,409.4 236.0,409.4 236.8,409.4 237.5,409.4 238.2,409.4 239.0,409.4 239.8,409.4 240.5,409.4 241.2,409.4 242.0,409.4 242.8,409.4 243.5,409.4 244.2,409.4 245.0,409.4 245.8,409.5 246.5,409.5 247.2,409.6 248.0,409.7 248.8,409.8 249.5,409.9 250.2,410.0 251.0,410.1 251.8,410.2 252.5,410.4 253.2,410.5 254.0,410.7 254.8,410.9 255.5,411.1 256.2,411.4 257.0,411.8 257.8,412.2 258.5,412.6 259.2,413.1 260.0,413.5 260.8,414.0 261.5,414.4 262.2,414.9 263.0,415.3 263.8,415.7 264.5,416.2 265.2,416.6 266.0,417.1 266.8,417.5 267.5,418.0 268.2,418.5 269.0,419.0 269.8,419.5 270.5,420.0 271.2,420.5 272.0,421.0 272.8,421.5 273.5,422.1 274.2,422.6 275.0,423.1 275.8,423.6 276.5,424.2 277.2,424.8 278.0,425.4 278.8,426.0 279.5,426.6 280.2,427.2 281.0,427.8 281.8,428.4 282.5,429.1 283.2,429.6 284.0,430.2 284.8,430.8 285.5,431.3 286.2,431.8 287.0,432.2 287.8,432.6 288.5,433.0 289.2,433.4 290.0,433.8 290.8,434.1 291.5,434.5 292.2,434.8 293.0,435.1 293.8,435.4 294.5,435.7 295.2,436.0 296.0,436.3 296.8,436.6 297.5,436.9 298.2,437.1 299.0,437.4 299.8,437.7 300.5,438.0 301.2,438.3 302.0,438.5 302.8,438.8 303.5,439.1 304.2,439.3 305.0,439.6 305.8,439.8 306.5,440.1 307.2,440.3 308.0,440.6 308.8,440.8 309.5,441.1 310.2,441.3 311.0,441.5 311.8,441.8 312.5,442.0 313.2,442.2 314.0,442.5 314.8,442.7 315.5,443.0 316.2,443.2 317.0,443.4 317.8,443.7 318.5,443.9 319.2,444.1 320.0,444.4 320.8,444.6 321.5,444.9 322.2,445.1 323.0,445.3 323.8,445.5 324.5,445.7 325.2,446.0 326.0,446.2 326.8,446.4 327.5,446.6 328.2,446.8 329.0,447.0 329.8,447.2 330.5,447.3 331.2,447.5 332.0,447.7 332.8,447.8 333.5,448.0 334.2,448.1 335.0,448.3 335.8,448.5 336.5,448.6 337.2,448.8 338.0,448.9 338.8,449.1 339.5,449.2 340.2,449.3 341.0,449.5 341.8,449.6 342.5,449.8 343.2,449.9 344.0,450.0 344.8,450.1 345.5,450.3 346.2,450.4 347.0,450.5 347.8,450.6 348.5,450.8 349.2,450.9 350.0,451.0 350.8,451.1 351.5,451.2 352.2,451.3 353.0,451.4 353.8,451.6 354.5,451.7 355.2,451.8 356.0,451.9 356.8,452.0 357.5,452.1 358.2,452.2 359.0,452.3 359.8,452.4 360.5,452.5 361.2,452.6 362.0,452.6 362.8,452.7 363.5,452.8 364.2,452.9 365.0,453.0 365.8,453.1 366.5,453.2 367.2,453.3 368.0,453.3 368.8,453.4 369.5,453.5 370.2,453.6 371.0,453.6 371.8,453.7 372.5,453.8 373.2,453.8 374.0,453.9 374.8,454.0 375.5,454.0 376.2,454.1 377.0,454.2 377.8,454.2 378.5,454.3 379.2,454.4 380.0,454.4 380.8,454.5 381.5,454.6 382.2,454.6 383.0,454.7 383.8,454.8 384.5,454.8 385.2,454.9 386.0,454.9 386.8,455.0 387.5,455.1 388.2,455.1 389.0,455.2 389.8,455.2 390.5,455.3 391.2,455.3 392.0,455.4 392.8,455.4 393.5,455.4 394.2,455.5 395.0,455.5 395.8,455.5 396.5,455.5 397.2,455.6 398.0,455.6 398.8,455.6 399.5,455.6 400.2,455.6 401.0,455.6 401.8,455.6 402.5,455.6 403.2,455.6 404.0,455.5 404.8,455.5 405.5,455.5 406.2,455.4 407.0,455.4 407.8,455.4 408.5,455.3 409.2,455.3 410.0,455.2 410.8,455.2 411.5,455.1 412.2,455.0 413.0,455.0 413.8,454.9 414.5,454.8 415.2,454.8 416.0,454.7 416.8,454.6 417.5,454.6 418.2,454.5 419.0,454.4 419.8,454.3 420.5,454.2 421.2,454.2 422.0,454.1 422.8,454.0 423.5,453.9 424.2,453.8 425.0,453.8 425.8,453.7 426.5,453.6 427.2,453.5 428.0,453.3 428.8,453.2 429.5,453.1 430.2,452.9 431.0,452.8 431.8,452.7 432.5,452.5 433.2,452.3 434.0,452.2 434.8,452.0 435.5,451.8 436.2,451.6 437.0,451.4 437.8,451.3 438.5,451.1 439.2,450.9 440.0,450.7 440.8,450.5 441.5,450.3 442.2,450.1 443.0,449.9 443.8,449.7 444.5,449.5 445.2,449.3 446.0,449.1 446.8,448.9 447.5,448.7 448.2,448.5 449.0,448.3 449.8,448.2 450.5,448.0 451.2,447.8 452.0,447.6 452.8,447.4 453.5,447.2 454.2,447.0 455.0,446.9 455.8,446.7 456.5,446.5 457.2,446.3 458.0,446.1 458.8,445.9 459.5,445.7 460.2,445.5 461.0,445.3 461.8,445.1 462.5,444.9 463.2,444.7 464.0,444.5 464.8,444.3 465.5,444.1 466.2,443.9 467.0,443.7 467.8,443.5 468.5,443.3 469.2,443.1 470.0,443.0 470.8,442.8 471.5,442.6 472.2,442.5 473.0,442.3 473.8,442.1 474.5,442.0 475.2,441.9 476.0,441.7 476.8,441.6 477.5,441.4 478.2,441.2 479.0,441.1 479.8,440.9 480.5,440.8 481.2,440.6 482.0,440.5 482.8,440.3 483.5,440.2 484.2,440.1 485.0,439.9 485.8,439.8 486.5,439.7 487.2,439.7 488.0,439.6 488.8,439.5 489.5,439.5 490.2,439.5 491.0,439.5 491.8,439.5 492.5,439.5 493.2,439.5 494.0,439.5 494.8,439.4 495.5,439.4 496.2,439.4 497.0,439.4 497.8,439.4 498.5,439.4 499.2,439.4 500.0,439.4 500.8,439.4 501.5,439.4 502.2,439.4 503.0,439.4 503.8,439.4 504.5,439.4 505.2,439.4 506.0,439.4 506.8,439.4 507.5,439.4 508.2,439.5 509.0,439.5 509.8,439.5 510.5,439.5 511.2,439.6 512.0,439.6 512.8,439.7 513.5,439.7 514.2,439.8 515.0,439.8 515.8,439.9 516.5,439.9 517.2,440.0 518.0,440.0 518.8,440.1 519.5,440.2 520.2,440.3 521.0,440.4 521.8,440.6 522.5,440.8 523.2,441.0 524.0,441.2 524.8,441.5 525.5,441.7 526.2,442.0 527.0,442.3 527.8,442.6 528.5,443.0 529.2,443.3 530.0,443.7 530.8,444.0 531.5,444.4 532.2,444.7 533.0,445.1 533.8,445.5 534.5,445.9 535.2,446.3 536.0,446.8 536.8,447.3 537.5,447.8 538.2,448.4 539.0,449.0 539.8,449.7 540.5,450.4 541.2,451.2 542.0,452.1 542.8,453.1 543.5,454.3 544.2,455.7 545.0,457.2 545.8,458.8 546.5,460.5 547.2,462.2 548.0,464.0 548.8,465.8 549.5,467.6 550.2,469.5 551.0,471.5 551.8,473.6 552.5,475.8 553.2,478.2 554.0,480.9 554.8,483.7 555.5,486.9 556.2,490.4 557.0,494.3 557.8,498.7 558.5,503.4 559.2,508.7 560.0,515.4 560.8,522.8 561.5,530.1 562.2,536.6 563.0,542.8 563.8,549.0 564.5,555.4 565.2,563.0 566.0,572.2 566.8,581.2 567.5,588.4 568.2,591.9 569.0,591.2 569.8,588.5 570.5,584.5 571.2,579.7 572.0,570.7 572.8,559.1 573.5,551.4 574.2,547.2 575.0,543.9 575.8,541.2 576.5,538.7 577.2,536.0 578.0,532.8 578.8,529.4 579.5,526.0 580.2,522.7 581.0,519.7 581.8,517.2 582.5,514.8 583.2,512.4 584.0,510.0 584.8,507.8 585.5,505.8 586.2,504.1 587.0,502.9 587.8,502.2 588.5,502.0 589.2,503.0 590.0,505.1 590.8,508.0 591.5,511.4 592.2,515.3 593.0,521.2 593.8,529.1 594.5,539.1 595.2,556.4 596.0,577.1 596.8,578.1 597.5,576.3 598.2,573.3 599.0,569.1 599.8,563.9 600.5,550.9 601.2,533.9 602.0,520.7 602.8,509.1 603.5,501.6 604.2,496.4 605.0,492.1 605.8,488.5 606.5,485.5 607.2,482.8 608.0,480.5 608.8,478.3 609.5,476.3 610.2,474.5 611.0,472.8 611.8,471.3 612.5,469.9 613.2,468.5 614.0,467.2 614.8,466.0 615.5,464.8 616.2,463.6 617.0,462.5 617.8,461.4 618.5,460.3 619.2,459.3 620.0,458.3 620.8,457.3 621.5,456.4 622.2,455.6 623.0,454.7 623.8,454.0 624.5,453.2 625.2,452.5 626.0,451.8 626.8,451.2 627.5,450.6 628.2,450.1 629.0,449.5 629.8,448.9 630.5,448.4 631.2,447.9 632.0,447.4 632.8,446.9 633.5,446.5 634.2,446.0 635.0,445.6 635.8,445.2 636.5,444.8 637.2,444.5 638.0,444.1 638.8,443.8 639.5,443.4 640.2,443.1 641.0,442.8 641.8,442.6 642.5,442.3 643.2,442.0 644.0,441.8 644.8,441.5 645.5,441.2 646.2,441.0 647.0,440.8 647.8,440.5 648.5,440.3 649.2,440.1 650.0,439.8 650.8,439.6 651.5,439.4 652.2,439.2 653.0,439.0 653.8,438.8 654.5,438.7 655.2,438.5 656.0,438.3 656.8,438.2 657.5,438.0 658.2,437.9 659.0,437.7 659.8,437.6 660.5,437.5 661.2,437.3 662.0,437.2 662.8,437.1 663.5,437.0 664.2,436.9 665.0,436.9 665.8,436.8 666.5,436.7 667.2,436.6 668.0,436.6 668.8,436.5 669.5,436.5 670.2,436.4 671.0,436.3 671.8,436.3 672.5,436.2 673.2,436.1 674.0,436.1 674.8,436.0 675.5,435.9 676.2,435.8 677.0,435.7 677.8,435.6 678.5,435.5 679.2,435.4 680.0,435.3 680.8,435.2 681.5,435.1 682.2,435.0 683.0,434.9 683.8,434.7 684.5,434.6 685.2,434.5 686.0,434.3 686.8,434.1 687.5,433.9 688.2,433.7 689.0,433.5 689.8,433.3 690.5,433.1 691.2,432.9 692.0,432.7 692.8,432.4 693.5,432.2 694.2,431.9 695.0,431.6 695.8,431.3 696.5,431.1 697.2,430.7 698.0,430.4 698.8,430.1 699.5,429.8 700.2,429.5 701.0,429.3 701.8,429.0 702.5,428.7 703.2,428.5 704.0,428.3 704.8,428.2 705.5,428.0 706.2,427.9 707.0,427.7 707.8,427.6 708.5,427.5 709.2,427.4 710.0,427.3 710.8,427.2 711.5,427.1 712.2,427.0 713.0,426.9 713.8,426.8 714.5,426.7 715.2,426.6 716.0,426.5 716.8,426.4 717.5,426.4 718.2,426.3 719.0,426.2 719.8,426.1 720.5,426.1 721.2,426.0 722.0,425.9 722.8,425.8 723.5,425.8 724.2,425.7 725.0,425.6 725.8,425.5 726.5,425.4 727.2,425.3 728.0,425.3 728.8,425.2 729.5,425.1 730.2,425.0 731.0,424.9 731.8,424.8 732.5,424.6 733.2,424.5 734.0,424.4 734.8,424.3 735.5,424.2 736.2,424.1 737.0,424.0 737.8,423.8 738.5,423.7 739.2,423.6 740.0,423.5 740.8,423.4 741.5,423.2 742.2,423.1 743.0,423.0 743.8,422.9 744.5,422.8 745.2,422.6 746.0,422.5 746.8,422.4 747.5,422.3 748.2,422.2 749.0,422.1 749.8,422.0 750.5,421.8 751.2,421.7 752.0,421.6 752.8,421.5 753.5,421.4 754.2,421.3 755.0,421.2 755.8,421.2 756.5,421.1 757.2,421.0 758.0,420.9 758.8,420.8 759.5,420.7 760.2,420.6 761.0,420.5 761.8,420.4 762.5,420.3 763.2,420.2 764.0,420.1 764.8,420.0 765.5,419.9 766.2,419.8 767.0,419.7 767.8,419.6 768.5,419.5 769.2,419.4 770.0,419.3 770.8,419.3 771.5,419.2 772.2,419.1 773.0,419.1 773.8,419.0 774.5,418.9 775.2,418.9 776.0,418.9 776.8,418.8 777.5,418.8 778.2,418.8 779.0,418.8 779.8,418.8 780.5,418.8 781.2,418.8 782.0,418.8 782.8,418.8 783.5,418.8 784.2,418.8 785.0,418.8 785.8,418.8 786.5,418.8 787.2,418.8 788.0,418.8 788.8,418.8 789.5,418.8 790.2,418.8 791.0,418.8 791.8,418.8 792.5,418.8 793.2,418.8 794.0,418.8 794.8,418.8 795.5,418.8 796.2,418.8 797.0,418.8 797.8,418.8 798.5,418.8 799.2,418.8 800.0,418.8 800.8,418.8 801.5,418.8 802.2,418.8 803.0,418.8 803.8,418.8 804.5,418.8 805.2,418.7 806.0,418.7 806.8,418.7 807.5,418.7 808.2,418.7 809.0,418.7 809.8,418.7 810.5,418.6 811.2,418.6 812.0,418.6 812.8,418.5 813.5,418.5 814.2,418.5 815.0,418.4 815.8,418.4 816.5,418.3 817.2,418.3 818.0,418.2 818.8,418.2 819.5,418.2 820.2,418.1 821.0,418.1 821.8,418.0 822.5,418.0 823.2,417.9 824.0,417.9 824.8,417.8 825.5,417.8 826.2,417.7 827.0,417.7 827.8,417.6 828.5,417.6 829.2,417.5 830.0,417.5 830.8,417.5 831.5,417.4 832.2,417.4 833.0,417.3 833.8,417.3 834.5,417.2 835.2,417.2 836.0,417.1 836.8,417.1 837.5,417.0 838.2,417.0 839.0,416.9 839.8,416.9 840.5,416.8 841.2,416.8 842.0,416.8 842.8,416.7 843.5,416.7 844.2,416.6 845.0,416.6 845.8,416.5 846.5,416.5 847.2,416.5 848.0,416.4 848.8,416.4 849.5,416.4 850.2,416.3 851.0,416.3 851.8,416.3 852.5,416.3 853.2,416.3 854.0,416.3 854.8,416.3 855.5,416.3 856.2,416.3 857.0,416.3 857.8,416.3 858.5,416.4 859.2,416.4 860.0,416.5 860.8,416.6 861.5,416.7 862.2,416.7 863.0,416.8 863.8,416.9 864.5,417.0 865.2,417.1 866.0,417.2 866.8,417.2 867.5,417.3 868.2,417.4 869.0,417.4 869.8,417.5 870.5,417.5 871.2,417.6 872.0,417.6 872.8,417.7 873.5,417.7 874.2,417.8 875.0,417.8 875.8,417.9 876.5,417.9 877.2,417.9 878.0,418.0 878.8,418.0 879.5,418.0 880.2,418.1 881.0,418.1 881.8,418.1 882.5,418.1 883.2,418.1 884.0,418.1 884.8,418.1 885.5,418.0 886.2,418.0 887.0,417.9 887.8,417.9 888.5,417.8 889.2,417.8 890.0,417.7 890.8,417.6 891.5,417.6 892.2,417.5 893.0,417.4 893.8,417.3 894.5,417.2 895.2,417.1 896.0,417.1 896.8,417.0 897.5,416.9 898.2,416.8 899.0,416.7 899.8,416.7 900.5,416.6 901.2,416.5 902.0,416.5 902.8,416.4 903.5,416.4 904.2,416.3 905.0,416.3 905.8,416.3 906.5,416.3 907.2,416.3 908.0,416.2 908.8,416.2 909.5,416.2 910.2,416.2 911.0,416.2 911.8,416.2 912.5,416.2 913.2,416.2 914.0,416.2 914.8,416.2 915.5,416.2 916.2,416.2 917.0,416.2 917.8,416.2 918.5,416.2 919.2,416.2 920.0,416.2 920.8,416.2 921.5,416.2 922.2,416.2 923.0,416.2 923.8,416.2 924.5,416.2 925.2,416.2 926.0,416.2 926.8,416.3 927.5,416.3 928.2,416.5 929.0,416.6 929.8,416.8 930.5,417.0 931.2,417.2 932.0,417.3 932.8,417.4 933.5,417.5 934.2,417.4 935.0,417.1 935.8,416.5 936.5,415.8 937.2,415.0 938.0,414.3 938.8,413.7 939.5,413.2 940.2,413.1 941.0,413.0 941.8,412.9 942.5,412.8 943.2,412.7 944.0,412.6 944.8,412.5 945.5,412.4 946.2,412.4 947.0,412.3 947.8,412.3 948.5,412.2 949.2,412.2 950.0,412.1 950.8,412.1 951.5,412.0 952.2,412.0 953.0,412.0 953.8,412.0 954.5,411.9 955.2,411.9 956.0,411.9 956.8,411.9 957.5,411.9 958.2,411.9 959.0,411.9 959.8,411.9 960.5,411.9 961.2,411.9 962.0,411.9 962.8,411.9 963.5,411.9 964.2,411.9 965.0,411.9 965.8,411.9 966.5,411.9 967.2,411.9 968.0,411.9 968.8,411.9 969.5,411.9 970.2,411.9 971.0,411.9 971.8,411.9 972.5,411.9 973.2,411.9 974.0,411.9 974.8,411.9 975.5,411.9 976.2,411.9 977.0,411.9 977.8,411.9 978.5,411.9 979.2,411.9 980.0,411.9 980.8,411.9 981.5,411.9 982.2,411.9 983.0,411.9 983.8,411.8 984.5,411.8 985.2,411.6 986.0,411.5 986.8,411.3 987.5,411.1 988.2,411.0 989.0,410.8 989.8,410.6 990.5,410.4 991.2,410.2 992.0,410.1 992.8,409.9 993.5,409.8 994.2,409.8 995.0,409.8 995.8,409.8 996.5,409.8 997.2,409.8 998.0,409.8 998.8,409.8 999.5,409.8 1000.2,409.8 1001.0,409.8 1001.8,409.8 1002.5,409.8 1003.2,409.8 1004.0,409.8 1004.8,409.8 1005.5,409.8 1006.2,409.8 1007.0,409.8 1007.8,409.8 1008.5,409.8 1009.2,409.8 1010.0,409.8 1010.8,409.8 1011.5,409.9 1012.2,409.9 1013.0,410.0 1013.8,410.1 1014.5,410.1 1015.2,410.2 1016.0,410.3 1016.8,410.4 1017.5,410.5 1018.2,410.6 1019.0,410.7 1019.8,410.8 1020.5,410.9 1021.2,411.0 1022.0,411.2 1022.8,411.3 1023.5,411.4 1024.2,411.6 1025.0,411.8 1025.8,412.0 1026.5,412.2 1027.2,412.5 1028.0,412.8 1028.8,413.1 1029.5,413.5 1030.2,413.9 1031.0,414.4 1031.8,415.2 1032.5,416.0 1033.2,417.0 1034.0,418.0 1034.8,419.1 1035.5,420.2 1036.2,421.2 1037.0,422.4 1037.8,423.8 1038.5,425.3 1039.2,426.8 1040.0,428.3 1040.8,429.8 1041.5,431.1 1042.2,432.2 1043.0,433.1 1043.8,434.0 1044.5,435.0 1045.2,435.8 1046.0,436.6 1046.8,437.3 1047.5,437.8 1048.2,438.0 1049.0,438.1 1049.8,438.1 1050.5,438.0 1051.2,437.9 1052.0,437.8 1052.8,437.7 1053.5,437.5 1054.2,437.3 1055.0,437.1 1055.8,436.9 1056.5,436.6 1057.2,436.3 1058.0,436.0 1058.8,435.2 1059.5,434.4 1060.2,433.6 1061.0,433.1 1061.8,433.1 1062.5,433.1 1063.2,433.2 1064.0,433.3 1064.8,433.3 1065.5,433.4 1066.2,433.6 1067.0,433.7 1067.8,433.8 1068.5,433.9 1069.2,434.1 1070.0,434.3 1070.8,434.6 1071.5,434.9 1072.2,435.1 1073.0,435.4 1073.8,435.7 1074.5,436.0 1075.2,436.4 1076.0,436.7 1076.8,437.2 1077.5,437.7 1078.2,438.2 1079.0,438.7 1079.8,439.1 1080.5,439.5 1081.2,439.8 1082.0,440.0 1082.8,440.0 1083.5,440.0 1084.2,440.0 1085.0,439.9 1085.8,439.9 1086.5,439.9 1087.2,439.8 1088.0,439.8 1088.8,439.7 1089.5,439.6 1090.2,439.6 1091.0,439.5 1091.8,439.5 1092.5,439.5 1093.2,439.4 1094.0,439.4 1094.8,439.4 1095.5,439.5 1096.2,440.0 1097.0,440.7 1097.8,441.7 1098.5,442.8 1099.2,443.9 1100.0,445.0 1100.8,445.9 1101.5,446.5 1102.2,446.9 1103.0,446.9 1103.8,446.6 1104.5,446.2 1105.2,445.7 1106.0,445.0 1106.8,444.2 1107.5,443.3 1108.2,442.4 1109.0,441.4 1109.8,440.3 1110.5,439.1 1111.2,437.3 1112.0,435.1 1112.8,432.8 1113.5,430.6 1114.2,428.7 1115.0,427.5 1115.8,426.7 1116.5,425.9 1117.2,425.2 1118.0,424.6 1118.8,424.0 1119.5,423.5 1120.2,423.1 1121.0,422.8 1121.8,422.6 1122.5,422.5 1123.2,422.5 1124.0,422.6 1124.8,422.8 1125.5,423.0 1126.2,423.2 1127.0,423.5 1127.8,423.9 1128.5,424.3 1129.2,424.8 1130.0,425.3 1130.8,425.8 1131.5,426.5 1132.2,428.2 1133.0,430.8 1133.8,433.6 1134.5,436.2 1135.2,438.1 1136.0,439.8 1136.8,441.6 1137.5,443.3 1138.2,444.7 1139.0,445.7 1139.8,446.2 1140.5,446.2 1141.2,445.8 1142.0,445.2 1142.8,444.3 1143.5,443.4 1144.2,442.5 1145.0,441.6 1145.8,440.9 1146.5,440.3 1147.2,440.0 1148.0,440.1 1148.8,440.9 1149.5,442.2 1150.2,444.1 1151.0,446.6 1151.8,451.9 1152.5,464.4 1153.2,477.4 1154.0,489.9 1154.8,502.4 1155.5,515.0 1156.2,523.5 1157.0,522.1 1157.8,518.6 1158.5,514.0 1159.2,508.6 1160.0,500.8 1160.8,492.4 1161.5,485.3 1162.2,478.4 1163.0,472.3 1163.8,468.8 1164.5,467.2 1165.2,466.0 1166.0,465.0 1166.8,464.2 1167.5,463.5 1168.2,462.9 1169.0,462.2 1169.8,461.5 1170.5,460.7 1171.2,460.0 1172.0,459.3 1172.8,458.6 1173.5,457.9 1174.2,457.1 1175.0,456.2 1175.8,455.2 1176.5,453.9 1177.2,452.5 1178.0,451.0 1178.8,449.5 1179.5,448.1 1180.2,446.9 1181.0,445.9 1181.8,445.2 1182.5,445.0 1183.2,445.1 1184.0,445.2 1184.8,445.5 1185.5,445.9 1186.2,446.3 1187.0,446.8 1187.8,447.3 1188.5,447.9 1189.2,448.6 1190.0,449.8 1190.8,451.4 1191.5,453.1 1192.2,454.9 1193.0,456.5 1193.8,457.8 1194.5,458.6 1195.2,458.7 1196.0,458.5 1196.8,458.1 1197.5,457.5 1198.2,456.8 1199.0,456.0 1199.8,455.2 1200.5,454.4 1201.2,453.7 1202.0,453.1 1202.8,452.7 1203.5,452.5 1204.2,452.5 1205.0,452.5 1205.8,452.6 1206.5,452.7 1207.2,452.7 1208.0,452.8 1208.8,452.9 1209.5,453.1 1210.2,453.2 1211.0,453.3 1211.8,453.4 1212.5,453.5 1213.2,453.6 1214.0,453.6 1214.8,453.7 1215.5,453.7 1216.2,453.8 1217.0,453.6 1217.8,453.3 1218.5,452.7 1219.2,452.0 1220.0,451.3 1220.8,450.5 1221.5,449.7 1222.2,449.0 1223.0,448.3 1223.8,447.8 1224.5,447.6 1225.2,447.5 1226.0,447.6 1226.8,447.9 1227.5,448.3 1228.2,448.8 1229.0,449.3 1229.8,450.0 1230.5,450.6 1231.2,451.3 1232.0,452.0 1232.8,452.8 1233.5,453.7 1234.2,455.0 1235.0,456.4 1235.8,458.0 1236.5,459.5 1237.2,460.9 1238.0,462.1 1238.8,463.1 1239.5,463.6 1240.2,463.7 1241.0,463.7 1241.8,463.6 1242.5,463.4 1243.2,463.1 1244.0,462.8 1244.8,462.5 1245.5,462.1 1246.2,461.7 1247.0,461.3 1247.8,460.9 1248.5,460.4 1249.2,459.9 1250.0,459.5 1250.8,459.0 1251.5,458.4 1252.2,457.6 1253.0,456.9 1253.8,456.1 1254.5,455.2 1255.2,454.5 1256.0,453.7 1256.8,453.1 1257.5,452.5 1258.2,452.0 1259.0,451.5 1259.8,451.0 1260.5,450.4 1261.2,450.0 1262.0,449.5 1262.8,449.1 1263.5,448.7 1264.2,448.5 1265.0,448.2 1265.8,448.1 1266.5,448.1 1267.2,448.5 1268.0,449.3 1268.8,450.4 1269.5,451.7 1270.2,453.1 1271.0,454.5 1271.8,456.0 1272.5,458.0 1273.2,460.3 1274.0,462.6 1274.8,464.8 1275.5,466.5 1276.2,467.5 1277.0,468.1 1277.8,468.6 1278.5,469.0 1279.2,469.3 1280.0,469.4 1280.8,469.2 1281.5,468.7 1282.2,467.9 1283.0,467.0 1283.8,466.2 1284.5,465.4 1285.2,464.7 1286.0,464.4 1286.8,464.5 1287.5,465.0 1288.2,465.8 1289.0,466.8 1289.8,467.9 1290.5,469.0 1291.2,470.0 1292.0,471.0 1292.8,472.0 1293.5,473.1 1294.2,474.1 1295.0,475.1 1295.8,475.9 1296.5,476.4 1297.2,476.9 1298.0,477.3 1298.8,477.6 1299.5,478.0 1300.2,478.3 1301.0,478.5 1301.8,478.8 1302.5,479.0 1303.2,479.3 1304.0,479.5 1304.8,479.7 1305.5,479.8 1306.2,480.0 1307.0,480.1 1307.8,480.2 1308.5,480.3 1309.2,480.5 1310.0,480.6 1310.8,480.8 1311.5,481.0 1312.2,481.2 1313.0,481.4 1313.8,481.8 1314.5,482.3 1315.2,482.8 1316.0,483.4 1316.8,484.0 1317.5,484.6 1318.2,485.2 1319.0,485.8 1319.8,486.2 1320.5,486.6 1321.2,486.9 1322.0,487.1 1322.8,487.3 1323.5,487.5 1324.2,487.7 1325.0,487.8 1325.8,488.0 1326.5,488.1 1327.2,488.3 1328.0,488.4 1328.8,488.5 1329.5,488.6 1330.2,488.7 1331.0,488.7 1331.8,488.7 1332.5,488.8 1333.2,488.7 1334.0,488.4 1334.8,488.1 1335.5,487.6 1336.2,487.1 1337.0,486.5 1337.8,485.8 1338.5,485.1 1339.2,484.4 1340.0,483.8 1340.8,483.0 1341.5,482.0 1342.2,480.9 1343.0,479.8 1343.8,478.7 1344.5,477.6 1345.2,476.6 1346.0,475.8 1346.8,475.2 1347.5,474.7 1348.2,474.3 1349.0,473.9 1349.8,473.6 1350.5,473.2 1351.2,472.9 1352.0,472.5 1352.8,472.0 1353.5,471.5 1354.2,470.8 1355.0,469.9 1355.8,468.8 1356.5,467.6 1357.2,466.3 1358.0,464.9 1358.8,463.5 1359.5,462.2 1360.2,460.8 1361.0,459.4 1361.8,458.0 1362.5,456.4 1363.2,454.9 1364.0,453.4 1364.8,451.8 1365.5,450.3 1366.2,448.8 1367.0,447.2 1367.8,445.5 1368.5,443.8 1369.2,442.2 1370.0,440.7 1370.8,439.4 1371.5,438.4 1372.2,437.5 1373.0,436.6 1373.8,435.7 1374.5,434.8 1375.2,434.0 1376.0,433.3 1376.8,432.6 1377.5,432.1 1378.2,431.7 1379.0,431.4 1379.8,431.3 1380.5,431.3 1381.2,431.5 1382.0,431.8 1382.8,432.2 1383.5,432.7 1384.2,433.1 1385.0,433.6 1385.8,434.0 1386.5,434.2 1387.2,434.4 1388.0,434.3 1388.8,433.7 1389.5,432.7 1390.2,431.4 1391.0,430.0 1391.8,428.5 1392.5,427.2 1393.2,426.1 1394.0,425.4 1394.8,424.7 1395.5,424.1 1396.2,423.4 1397.0,422.8 1397.8,422.2 1398.5,421.6 1399.2,421.0 1400.0,420.5 1400.8,420.1 1401.5,419.7 1402.2,419.3 1403.0,419.1 1403.8,418.9 1404.5,418.8 1405.2,418.8 1406.0,418.9 1406.8,419.3 1407.5,419.7 1408.2,420.3 1409.0,420.9 1409.8,421.5 1410.5,422.0 1411.2,422.5 1412.0,422.8 1412.8,423.0 1413.5,423.0 1414.2,422.8 1415.0,422.5 1415.8,422.1 1416.5,421.8 1417.2,421.4 1418.0,421.0 1418.8,420.7 1419.5,420.5 1420.2,420.5 1421.0,420.6 1421.8,420.8 1422.5,421.1 1423.2,421.3 1424.0,421.6 1424.8,421.8 1425.5,422.0 1426.2,422.0 1427.0,421.6 1427.8,420.8 1428.5,419.7 1429.2,418.5 1430.0,417.3 1430.8,416.1 1431.5,415.1 1432.2,414.3 1433.0,414.0 1433.8,413.9 1434.5,413.8 1435.2,413.7 1436.0,413.7 1436.8,413.6 1437.5,413.6 1438.2,413.5 1439.0,413.5 1439.8,413.5 1440.5,413.5 1441.2,413.7 1442.0,414.0 1442.8,414.3 1443.5,414.8 1444.2,415.3 1445.0,415.9 1445.8,416.5 1446.5,417.1 1447.2,417.7 1448.0,418.3 1448.8,419.0 1449.5,419.9 1450.2,421.2 1451.0,423.0 1451.8,430.2 1452.5,440.0 1453.2,446.6 1454.0,452.5 1454.8,458.1 1455.5,463.8 1456.2,469.3 1457.0,474.6 1457.8,479.8 1458.5,485.6 1459.2,489.7 1460.0,489.5 1460.8,487.3 1461.5,483.4 1462.2,476.8 1463.0,460.0 1463.8,442.9 1464.5,437.6 1465.2,435.1 1466.0,433.4 1466.8,432.3 1467.5,431.4 1468.2,430.6 1469.0,429.9 1469.8,429.4 1470.5,429.1 1471.2,429.0 1472.0,429.2 1472.8,429.5 1473.5,430.0 1474.2,430.6 1475.0,431.2 1475.8,431.8 1476.5,432.5 1477.2,433.4 1478.0,434.4 1478.8,435.3 1479.5,435.9 1480.2,436.0 1481.0,435.8 1481.8,435.5 1482.5,435.1 1483.2,434.6 1484.0,434.0 1484.8,433.4 1485.5,432.9 1486.2,432.5 1487.0,432.2 1487.8,432.0 1488.5,432.0 1489.2,432.1 1490.0,432.1 1490.8,432.3 1491.5,432.4 1492.2,432.6 1493.0,432.7 1493.8,432.9 1494.5,433.2 1495.2,433.7 1496.0,434.3 1496.8,435.0 1497.5,435.7 1498.2,436.3 1499.0,436.7 1499.8,437.0 1500.5,437.0 1501.2,437.0 1502.0,436.9 1502.8,436.9 1503.5,436.9 1504.2,436.8 1505.0,436.8 1505.8,436.7 1506.5,436.6 1507.2,436.6 1508.0,436.6 1508.8,436.5 1509.5,436.5 1510.2,436.5 1511.0,436.5 1511.8,436.5 1512.5,436.5 1513.2,436.5 1514.0,436.5 1514.8,436.5 1515.5,436.5 1516.2,436.5 1517.0,436.5 1517.8,436.5 1518.5,436.5 1519.2,436.5 1520.0,436.5 1520.8,436.5 1521.5,436.4 1522.2,436.2 1523.0,436.1 1523.8,435.9 1524.5,435.6 1525.2,435.4 1526.0,435.2 1526.8,435.0 1527.5,434.8 1528.2,434.7 1529.0,434.6 1529.8,434.5 1530.5,434.5 1531.2,434.6 1532.0,434.8 1532.8,435.1 1533.5,435.3 1534.2,435.6 1535.0,436.0 1535.8,436.3 1536.5,436.5 1537.2,436.8 1538.0,436.9 1538.8,437.0 1539.5,437.0 1540.2,436.8 1541.0,436.6 1541.8,436.2 1542.5,435.7 1543.2,435.2 1544.0,434.5 1544.8,433.8 1545.5,433.0 1546.2,432.2 1547.0,431.3 1547.8,430.3 1548.0,430.0" stroke="#fd3e3e"/>
<polyline points="130.9,997.0 130.9,738.7 132.5,738.8 133.2,738.7 134.0,738.6 134.8,738.5 135.5,738.4 136.2,738.4 137.0,738.3 137.8,738.2 138.5,738.1 139.2,738.1 140.0,738.0 140.8,737.9 141.5,737.9 142.2,737.8 143.0,737.8 143.8,737.7 144.5,737.7 145.2,737.6 146.0,737.6 146.8,737.6 147.5,737.5 148.2,737.5 149.0,737.5 149.8,737.5 150.5,737.5 151.2,737.5 152.0,737.5 152.8,737.5 153.5,737.5 154.2,737.5 155.0,737.5 155.8,737.5 156.5,737.5 157.2,737.5 158.0,737.5 158.8,737.5 159.5,737.5 160.2,737.5 161.0,737.5 161.8,737.5 162.5,737.5 163.2,737.5 164.0,737.5 164.8,737.5 165.5,737.5 166.2,737.5 167.0,737.5 167.8,737.5 168.5,737.5 169.2,737.5 170.0,737.5 170.8,737.4 171.5,737.4 172.2,737.4 173.0,737.3 173.8,737.2 174.5,737.1 175.2,737.0 176.0,737.0 176.8,736.9 177.5,736.8 178.2,736.6 179.0,736.5 179.8,736.4 180.5,736.3 181.2,736.2 182.0,736.1 182.8,736.0 183.5,735.9 184.2,735.9 185.0,735.8 185.8,735.7 186.5,735.7 187.2,735.6 188.0,735.6 188.8,735.5 189.5,735.5 190.2,735.5 191.0,735.5 191.8,735.4 192.5,735.4 193.2,735.4 194.0,735.4 194.8,735.4 195.5,735.3 196.2,735.3 197.0,735.3 197.8,735.3 198.5,735.3 199.2,735.3 200.0,735.2 200.8,735.2 201.5,735.2 202.2,735.2 203.0,735.1 203.8,735.1 204.5,735.1 205.2,735.0 206.0,735.0 206.8,735.0 207.5,734.9 208.2,734.9 209.0,734.8 209.8,734.7 210.5,734.6 211.2,734.5 212.0,734.4 212.8,734.3 213.5,734.1 214.2,734.0 215.0,733.9 215.8,733.8 216.5,733.6 217.2,733.5 218.0,733.4 218.8,733.3 219.5,733.1 220.2,733.0 221.0,732.9 221.8,732.8 222.5,732.7 223.2,732.7 224.0,732.6 224.8,732.5 225.5,732.5 226.2,732.4 227.0,732.4 227.8,732.3 228.5,732.3 229.2,732.2 230.0,732.2 230.8,732.1 231.5,732.1 232.2,732.0 233.0,732.0 233.8,732.0 234.5,731.9 235.2,731.9 236.0,731.9 236.8,731.9 237.5,731.9 238.2,731.9 239.0,731.9 239.8,731.9 240.5,731.9 241.2,732.0 242.0,732.0 242.8,732.0 243.5,732.1 244.2,732.1 245.0,732.1 245.8,732.2 246.5,732.2 247.2,732.3 248.0,732.3 248.8,732.4 249.5,732.5 250.2,732.5 251.0,732.6 251.8,732.7 252.5,732.8 253.2,732.9 254.0,733.1 254.8,733.2 255.5,733.4 256.2,733.5 257.0,733.7 257.8,733.9 258.5,734.1 259.2,734.2 260.0,734.4 260.8,734.6 261.5,734.8 262.2,734.9 263.0,735.1 263.8,735.3 264.5,735.4 265.2,735.6 266.0,735.8 266.8,735.9 267.5,736.1 268.2,736.3 269.0,736.5 269.8,736.7 270.5,736.9 271.2,737.1 272.0,737.3 272.8,737.6 273.5,737.9 274.2,738.2 275.0,738.5 275.8,738.9 276.5,739.3 277.2,739.7 278.0,740.1 278.8,740.5 279.5,740.9 280.2,741.4 281.0,741.8 281.8,742.2 282.5,742.7 283.2,743.2 284.0,743.8 284.8,744.3 285.5,744.9 286.2,745.4 287.0,745.9 287.8,746.3 288.5,746.6 289.2,746.8 290.0,746.9 290.8,746.9 291.5,746.9 292.2,746.9 293.0,746.9 293.8,746.9 294.5,746.9 295.2,747.0 296.0,747.0 296.8,747.0 297.5,747.0 298.2,747.0 299.0,747.0 299.8,747.0 300.5,747.0 301.2,747.1 302.0,747.2 302.8,747.3 303.5,747.5 304.2,747.7 305.0,747.9 305.8,748.1 306.5,748.3 307.2,748.6 308.0,748.8 308.8,749.1 309.5,749.4 310.2,749.6 311.0,749.9 311.8,750.1 312.5,750.3 313.2,750.5 314.0,750.7 314.8,750.9 315.5,751.1 316.2,751.3 317.0,751.6 317.8,751.8 318.5,752.0 319.2,752.2 320.0,752.4 320.8,752.6 321.5,752.9 322.2,753.1 323.0,753.3 323.8,753.5 324.5,753.7 325.2,753.9 326.0,754.1 326.8,754.4 327.5,754.6 328.2,754.8 329.0,755.0 329.8,755.2 330.5,755.4 331.2,755.6 332.0,755.8 332.8,756.0 333.5,756.2 334.2,756.4 335.0,756.6 335.8,756.8 336.5,757.0 337.2,757.3 338.0,757.5 338.8,757.7 339.5,757.9 340.2,758.1 341.0,758.3 341.8,758.5 342.5,758.7 343.2,758.9 344.0,759.1 344.8,759.3 345.5,759.5 346.2,759.7 347.0,759.9 347.8,760.1 348.5,760.3 349.2,760.4 350.0,760.6 350.8,760.8 351.5,761.0 352.2,761.1 353.0,761.3 353.8,761.4 354.5,761.6 355.2,761.7 356.0,761.9 356.8,762.0 357.5,762.1 358.2,762.2 359.0,762.4 359.8,762.5 360.5,762.6 361.2,762.7 362.0,762.8 362.8,762.9 363.5,763.0 364.2,763.1 365.0,763.2 365.8,763.3 366.5,763.4 367.2,763.5 368.0,763.6 368.8,763.7 369.5,763.8 370.2,763.9 371.0,764.0 371.8,764.1 372.5,764.1 373.2,764.2 374.0,764.3 374.8,764.4 375.5,764.4 376.2,764.5 377.0,764.6 377.8,764.7 378.5,764.7 379.2,764.8 380.0,764.9 380.8,765.0 381.5,765.1 382.2,765.1 383.0,765.2 383.8,765.3 384.5,765.4 385.2,765.4 386.0,765.5 386.8,765.6 387.5,765.6 388.2,765.7 389.0,765.8 389.8,765.8 390.5,765.9 391.2,765.9 392.0,766.0 392.8,766.0 393.5,766.1 394.2,766.1 395.0,766.1 395.8,766.2 396.5,766.2 397.2,766.2 398.0,766.2 398.8,766.2 399.5,766.2 400.2,766.2 401.0,766.2 401.8,766.2 402.5,766.2 403.2,766.2 404.0,766.2 404.8,766.1 405.5,766.1 406.2,766.1 407.0,766.0 407.8,766.0 408.5,765.9 409.2,765.9 410.0,765.8 410.8,765.8 411.5,765.7 412.2,765.6 413.0,765.6 413.8,765.5 414.5,765.4 415.2,765.4 416.0,765.3 416.8,765.2 417.5,765.1 418.2,765.1 419.0,765.0 419.8,764.9 420.5,764.8 421.2,764.6 422.0,764.5 422.8,764.3 423.5,764.1 424.2,763.9 425.0,763.7 425.8,763.5 426.5,763.3 427.2,763.1 428.0,762.9 428.8,762.6 429.5,762.4 430.2,762.1 431.0,761.9 431.8,761.7 432.5,761.4 433.2,761.2 434.0,761.0 434.8,760.7 435.5,760.5 436.2,760.3 437.0,760.1 437.8,759.9 438.5,759.8 439.2,759.6 440.0,759.4 440.8,759.2 441.5,759.1 442.2,758.9 443.0,758.7 443.8,758.6 444.5,758.4 445.2,758.2 446.0,758.1 446.8,757.9 447.5,757.8 448.2,757.6 449.0,757.5 449.8,757.3 450.5,757.1 451.2,757.0 452.0,756.8 452.8,756.7 453.5,756.5 454.2,756.3 455.0,756.2 455.8,756.0 456.5,755.8 457.2,755.7 458.0,755.5 458.8,755.3 459.5,755.1 460.2,755.0 461.0,754.8 461.8,754.6 462.5,754.4 463.2,754.2 464.0,754.0 464.8,753.8 465.5,753.5 466.2,753.3 467.0,753.0 467.8,752.8 468.5,752.5 469.2,752.3 470.0,752.0 470.8,751.7 471.5,751.5 472.2,751.2 473.0,750.9 473.8,750.7 474.5,750.4 475.2,750.2 476.0,750.0 476.8,749.8 477.5,749.5 478.2,749.4 479.0,749.2 479.8,749.0 480.5,748.9 481.2,748.8 482.0,748.6 482.8,748.5 483.5,748.4 484.2,748.3 485.0,748.2 485.8,748.1 486.5,748.0 487.2,747.9 488.0,747.8 488.8,747.8 489.5,747.7 490.2,747.7 491.0,747.7 491.8,747.7 492.5,747.7 493.2,747.7 494.0,747.7 494.8,747.8 495.5,747.8 496.2,747.8 497.0,747.8 497.8,747.9 498.5,747.9 499.2,748.0 500.0,748.0 500.8,748.1 501.5,748.1 502.2,748.2 503.0,748.2 503.8,748.3 504.5,748.4 505.2,748.4 506.0,748.5 506.8,748.6 507.5,748.7 508.2,748.7 509.0,748.8 509.8,748.9 510.5,749.0 511.2,749.1 512.0,749.2 512.8,749.3 513.5,749.5 514.2,749.7 515.0,749.9 515.8,750.1 516.5,750.3 517.2,750.5 518.0,750.8 518.8,751.0 519.5,751.3 520.2,751.6 521.0,751.9 521.8,752.2 522.5,752.5 523.2,752.8 524.0,753.1 524.8,753.4 525.5,753.7 526.2,754.1 527.0,754.5 527.8,754.9 528.5,755.5 529.2,756.0 530.0,756.5 530.8,757.0 531.5,757.5 532.2,757.8 533.0,758.1 533.8,758.3 534.5,758.5 535.2,758.7 536.0,758.9 536.8,759.1 537.5,759.4 538.2,759.7 539.0,760.1 539.8,760.6 540.5,761.2 541.2,762.1 542.0,763.1 542.8,764.3 543.5,765.7 544.2,767.3 545.0,770.0 545.8,773.4 546.5,777.0 547.2,780.4 548.0,784.0 548.8,787.8 549.5,791.6 550.2,795.3 551.0,799.1 551.8,802.8 552.5,806.6 553.2,810.6 554.0,814.6 554.8,818.7 555.5,823.2 556.2,828.5 557.0,835.0 557.8,843.1 558.5,853.4 559.2,866.0 560.0,880.0 560.8,892.1 561.5,903.5 562.2,914.0 563.0,923.2 563.8,931.1 564.5,938.3 565.2,944.7 566.0,950.1 566.8,954.8 567.5,959.3 568.2,962.1 569.0,961.5 569.8,958.2 570.5,953.7 571.2,949.3 572.0,943.9 572.8,938.0 573.5,932.0 574.2,926.4 575.0,921.5 575.8,916.9 576.5,912.5 577.2,908.2 578.0,904.1 578.8,900.1 579.5,896.4 580.2,892.8 581.0,889.2 581.8,885.3 582.5,880.9 583.2,876.1 584.0,871.0 584.8,866.2 585.5,862.0 586.2,857.8 587.0,854.2 587.8,853.5 588.5,855.8 589.2,859.6 590.0,863.6 590.8,868.3 591.5,874.0 592.2,881.2 593.0,891.2 593.8,906.1 594.5,922.2 595.2,942.8 596.0,950.4 596.8,947.0 597.5,940.9 598.2,930.1 599.0,914.1 599.8,898.6 600.5,883.3 601.2,872.0 602.0,862.4 602.8,854.0 603.5,846.3 604.2,838.9 605.0,831.9 605.8,825.6 606.5,820.1 607.2,815.6 608.0,811.7 608.8,808.2 609.5,805.1 610.2,802.3 611.0,799.9 611.8,797.7 612.5,795.7 613.2,793.8 614.0,792.0 614.8,790.4 615.5,788.8 616.2,787.3 617.0,785.8 617.8,784.4 618.5,782.9 619.2,781.5 620.0,780.0 620.8,778.6 621.5,777.2 622.2,775.9 623.0,774.8 623.8,773.7 624.5,772.7 625.2,771.9 626.0,771.2 626.8,770.5 627.5,769.9 628.2,769.2 629.0,768.7 629.8,768.1 630.5,767.6 631.2,767.1 632.0,766.6 632.8,766.2 633.5,765.8 634.2,765.4 635.0,765.0 635.8,764.6 636.5,764.3 637.2,763.9 638.0,763.6 638.8,763.3 639.5,762.9 640.2,762.6 641.0,762.3 641.8,762.0 642.5,761.7 643.2,761.4 644.0,761.1 644.8,760.8 645.5,760.6 646.2,760.3 647.0,760.1 647.8,759.8 648.5,759.6 649.2,759.4 650.0,759.2 650.8,759.0 651.5,758.8 652.2,758.6 653.0,758.4 653.8,758.2 654.5,758.1 655.2,757.9 656.0,757.8 656.8,757.6 657.5,757.5 658.2,757.3 659.0,757.2 659.8,757.0 660.5,756.9 661.2,756.7 662.0,756.6 662.8,756.5 663.5,756.4 664.2,756.3 665.0,756.2 665.8,756.1 666.5,756.0 667.2,756.0 668.0,755.9 668.8,755.9 669.5,755.9 670.2,755.9 671.0,756.0 671.8,756.0 672.5,756.1 673.2,756.2 674.0,756.3 674.8,756.4 675.5,756.5 676.2,756.6 677.0,756.7 677.8,756.8 678.5,756.8 679.2,756.9 680.0,756.9 680.8,756.9 681.5,756.7 682.2,756.5 683.0,756.3 683.8,756.0 684.5,755.6 685.2,755.3 686.0,754.8 686.8,754.4 687.5,753.9 688.2,753.5 689.0,753.0 689.8,752.6 690.5,752.2 691.2,751.8 692.0,751.5 692.8,751.2 693.5,750.9 694.2,750.6 695.0,750.3 695.8,750.0 696.5,749.7 697.2,749.4 698.0,749.1 698.8,748.8 699.5,748.5 700.2,748.3 701.0,748.0 701.8,747.8 702.5,747.5 703.2,747.3 704.0,747.1 704.8,747.0 705.5,746.8 706.2,746.6 707.0,746.5 707.8,746.3 708.5,746.2 709.2,746.1 710.0,745.9 710.8,745.8 711.5,745.7 712.2,745.6 713.0,745.4 713.8,745.3 714.5,745.2 715.2,745.1 716.0,745.0 716.8,744.9 717.5,744.8 718.2,744.7 719.0,744.6 719.8,744.5 720.5,744.4 721.2,744.3 722.0,744.2 722.8,744.1 723.5,744.0 724.2,743.9 725.0,743.8 725.8,743.7 726.5,743.6 727.2,743.5 728.0,743.4 728.8,743.3 729.5,743.2 730.2,743.1 731.0,742.9 731.8,742.8 732.5,742.7 733.2,742.5 734.0,742.4 734.8,742.2 735.5,742.1 736.2,741.9 737.0,741.8 737.8,741.6 738.5,741.5 739.2,741.3 740.0,741.2 740.8,741.0 741.5,740.9 742.2,740.7 743.0,740.6 743.8,740.4 744.5,740.3 745.2,740.1 746.0,740.0 746.8,739.9 747.5,739.7 748.2,739.6 749.0,739.5 749.8,739.4 750.5,739.2 751.2,739.1 752.0,739.1 752.8,739.0 753.5,738.9 754.2,738.8 755.0,738.8 755.8,738.7 756.5,738.6 757.2,738.6 758.0,738.5 758.8,738.5 759.5,738.4 760.2,738.4 761.0,738.3 761.8,738.2 762.5,738.2 763.2,738.1 764.0,738.1 764.8,738.0 765.5,738.0 766.2,738.0 767.0,737.9 767.8,737.9 768.5,737.8 769.2,737.8 770.0,737.8 770.8,737.7 771.5,737.7 772.2,737.7 773.0,737.6 773.8,737.6 774.5,737.6 775.2,737.6 776.0,737.5 776.8,737.5 777.5,737.5 778.2,737.5 779.0,737.5 779.8,737.5 780.5,737.5 781.2,737.5 782.0,737.5 782.8,737.5 783.5,737.5 784.2,737.5 785.0,737.5 785.8,737.5 786.5,737.5 787.2,737.9 788.0,738.5 788.8,739.4 789.5,740.5 790.2,741.6 791.0,742.7 791.8,743.7 792.5,744.4 793.2,744.9 794.0,745.0 794.8,745.0 795.5,744.9 796.2,744.8 797.0,744.7 797.8,744.6 798.5,744.5 799.2,744.4 800.0,744.4 800.8,744.5 801.5,744.8 802.2,745.2 803.0,745.6 803.8,746.0 804.5,746.2 805.2,746.2 806.0,746.1 806.8,745.9 807.5,745.5 808.2,745.1 809.0,744.7 809.8,744.2 810.5,743.7 811.2,743.2 812.0,742.8 812.8,742.4 813.5,742.0 814.2,741.6 815.0,741.2 815.8,740.8 816.5,740.4 817.2,740.0 818.0,739.6 818.8,739.3 819.5,738.9 820.2,738.6 821.0,738.3 821.8,738.0 822.5,737.8 823.2,737.6 824.0,737.5 824.8,737.3 825.5,737.2 826.2,737.1 827.0,737.0 827.8,736.9 828.5,736.8 829.2,736.7 830.0,736.7 830.8,736.6 831.5,736.5 832.2,736.4 833.0,736.4 833.8,736.3 834.5,736.3 835.2,736.2 836.0,736.1 836.8,736.1 837.5,736.0 838.2,736.0 839.0,735.9 839.8,735.8 840.5,735.8 841.2,735.7 842.0,735.6 842.8,735.6 843.5,735.5 844.2,735.4 845.0,735.3 845.8,735.2 846.5,735.1 847.2,735.0 848.0,734.9 848.8,734.8 849.5,734.8 850.2,734.7 851.0,734.6 851.8,734.5 852.5,734.5 853.2,734.4 854.0,734.4 854.8,734.4 855.5,734.4 856.2,734.4 857.0,734.4 857.8,734.5 858.5,734.5 859.2,734.6 860.0,734.7 860.8,734.7 861.5,734.8 862.2,734.9 863.0,734.9 863.8,735.0 864.5,735.1 865.2,735.2 866.0,735.2 866.8,735.3 867.5,735.3 868.2,735.4 869.0,735.4 869.8,735.4 870.5,735.4 871.2,735.4 872.0,735.4 872.8,735.4 873.5,735.3 874.2,735.3 875.0,735.3 875.8,735.3 876.5,735.2 877.2,735.2 878.0,735.2 878.8,735.1 879.5,735.1 880.2,735.0 881.0,735.0 881.8,734.9 882.5,734.9 883.2,734.9 884.0,734.8 884.8,734.8 885.5,734.7 886.2,734.7 887.0,734.6 887.8,734.6 888.5,734.6 889.2,734.5 890.0,734.5 890.8,734.5 891.5,734.5 892.2,734.4 893.0,734.4 893.8,734.4 894.5,734.4 895.2,734.4 896.0,734.4 896.8,734.4 897.5,734.4 898.2,734.4 899.0,734.4 899.8,734.4 900.5,734.5 901.2,734.5 902.0,734.5 902.8,734.5 903.5,734.5 904.2,734.6 905.0,734.6 905.8,734.6 906.5,734.7 907.2,734.7 908.0,734.7 908.8,734.8 909.5,734.8 910.2,734.9 911.0,734.9 911.8,735.0 912.5,735.0 913.2,735.1 914.0,735.1 914.8,735.2 915.5,735.2 916.2,735.3 917.0,735.3 917.8,735.4 918.5,735.5 919.2,735.5 920.0,735.6 920.8,735.7 921.5,735.9 922.2,736.1 923.0,736.3 923.8,736.6 924.5,736.9 925.2,737.2 926.0,737.5 926.8,737.9 927.5,738.2 928.2,738.5 929.0,738.7 929.8,739.0 930.5,739.2 931.2,739.3 932.0,739.4 932.8,739.4 933.5,739.2 934.2,738.7 935.0,738.1 935.8,737.4 936.5,736.7 937.2,736.0 938.0,735.3 938.8,734.8 939.5,734.5 940.2,734.4 941.0,734.3 941.8,734.3 942.5,734.3 943.2,734.2 944.0,734.2 944.8,734.2 945.5,734.2 946.2,734.1 947.0,734.1 947.8,734.1 948.5,734.0 949.2,734.0 950.0,734.0 950.8,734.0 951.5,734.0 952.2,733.9 953.0,733.9 953.8,733.9 954.5,733.9 955.2,733.9 956.0,733.9 956.8,733.8 957.5,733.8 958.2,733.8 959.0,733.8 959.8,733.8 960.5,733.8 961.2,733.8 962.0,733.8 962.8,733.8 963.5,733.8 964.2,733.8 965.0,733.8 965.8,733.8 966.5,733.8 967.2,733.8 968.0,733.8 968.8,733.8 969.5,733.8 970.2,733.8 971.0,733.8 971.8,733.8 972.5,733.8 973.2,733.9 974.0,733.9 974.8,734.0 975.5,734.0 976.2,734.1 977.0,734.1 977.8,734.2 978.5,734.2 979.2,734.3 980.0,734.3 980.8,734.4 981.5,734.4 982.2,734.4 983.0,734.4 983.8,734.2 984.5,734.0 985.2,733.7 986.0,733.3 986.8,732.9 987.5,732.5 988.2,732.1 989.0,731.7 989.8,731.3 990.5,731.0 991.2,730.8 992.0,730.6 992.8,730.6 993.5,730.6 994.2,730.6 995.0,730.6 995.8,730.6 996.5,730.6 997.2,730.6 998.0,730.6 998.8,730.6 999.5,730.6 1000.2,730.6 1001.0,730.6 1001.8,730.6 1002.5,730.6 1003.2,730.6 1004.0,730.6 1004.8,730.6 1005.5,730.6 1006.2,730.6 1007.0,730.6 1007.8,730.6 1008.5,730.6 1009.2,730.6 1010.0,730.6 1010.8,730.7 1011.5,730.7 1012.2,730.7 1013.0,730.8 1013.8,730.8 1014.5,730.9 1015.2,731.0 1016.0,731.0 1016.8,731.1 1017.5,731.2 1018.2,731.3 1019.0,731.4 1019.8,731.4 1020.5,731.6 1021.2,731.7 1022.0,731.8 1022.8,731.9 1023.5,732.0 1024.2,732.1 1025.0,732.3 1025.8,732.4 1026.5,732.6 1027.2,732.7 1028.0,733.0 1028.8,733.3 1029.5,733.6 1030.2,734.0 1031.0,734.5 1031.8,735.0 1032.5,735.6 1033.2,736.4 1034.0,737.5 1034.8,739.0 1035.5,740.7 1036.2,742.6 1037.0,744.8 1037.8,747.1 1038.5,750.3 1039.2,754.1 1040.0,758.2 1040.8,762.0 1041.5,766.4 1042.2,771.1 1043.0,774.7 1043.8,776.2 1044.5,775.6 1045.2,774.1 1046.0,772.0 1046.8,769.7 1047.5,767.5 1048.2,765.2 1049.0,762.6 1049.8,760.0 1050.5,757.7 1051.2,756.2 1052.0,755.3 1052.8,754.4 1053.5,753.6 1054.2,752.9 1055.0,752.2 1055.8,751.7 1056.5,751.2 1057.2,750.9 1058.0,750.7 1058.8,750.6 1059.5,750.6 1060.2,750.8 1061.0,751.0 1061.8,751.2 1062.5,751.5 1063.2,751.8 1064.0,752.1 1064.8,752.4 1065.5,752.7 1066.2,753.0 1067.0,753.4 1067.8,753.7 1068.5,754.1 1069.2,754.6 1070.0,755.0 1070.8,755.5 1071.5,756.1 1072.2,756.8 1073.0,757.5 1073.8,758.3 1074.5,759.1 1075.2,759.9 1076.0,760.7 1076.8,761.5 1077.5,762.2 1078.2,762.9 1079.0,763.4 1079.8,763.9 1080.5,764.2 1081.2,764.4 1082.0,764.4 1082.8,764.3 1083.5,764.2 1084.2,764.0 1085.0,763.7 1085.8,763.4 1086.5,763.0 1087.2,762.6 1088.0,762.2 1088.8,761.8 1089.5,761.4 1090.2,761.0 1091.0,760.6 1091.8,760.3 1092.5,760.0 1093.2,759.7 1094.0,759.5 1094.8,759.4 1095.5,759.3 1096.2,759.3 1097.0,759.5 1097.8,759.8 1098.5,760.1 1099.2,760.4 1100.0,760.7 1100.8,761.0 1101.5,761.2 1102.2,761.2 1103.0,761.1 1103.8,760.9 1104.5,760.6 1105.2,760.1 1106.0,759.7 1106.8,759.2 1107.5,758.6 1108.2,758.1 1109.0,757.5 1109.8,756.6 1110.5,755.6 1111.2,754.5 1112.0,753.3 1112.8,752.1 1113.5,751.1 1114.2,750.2 1115.0,749.5 1115.8,749.1 1116.5,749.1 1117.2,749.1 1118.0,749.1 1118.8,749.1 1119.5,749.1 1120.2,749.1 1121.0,749.1 1121.8,749.1 1122.5,749.1 1123.2,749.1 1124.0,749.1 1124.8,749.1 1125.5,749.0 1126.2,748.9 1127.0,748.9 1127.8,748.8 1128.5,748.7 1129.2,748.6 1130.0,748.6 1130.8,748.5 1131.5,748.5 1132.2,749.1 1133.0,750.4 1133.8,752.2 1134.5,754.0 1135.2,755.5 1136.0,756.6 1136.8,756.8 1137.5,756.7 1138.2,756.7 1139.0,756.5 1139.8,756.3 1140.5,756.2 1141.2,755.9 1142.0,755.7 1142.8,755.5 1143.5,755.3 1144.2,755.2 1145.0,755.0 1145.8,754.9 1146.5,754.9 1147.2,754.9 1148.0,755.2 1148.8,755.8 1149.5,756.8 1150.2,758.2 1151.0,760.3 1151.8,791.8 1152.5,813.2 1153.2,829.2 1154.0,845.4 1154.8,864.2 1155.5,875.1 1156.2,874.3 1157.0,871.1 1157.8,866.1 1158.5,860.1 1159.2,851.8 1160.0,837.8 1160.8,824.9 1161.5,814.4 1162.2,804.7 1163.0,797.8 1163.8,794.8 1164.5,792.7 1165.2,791.1 1166.0,789.8 1166.8,788.7 1167.5,787.5 1168.2,786.2 1169.0,784.7 1169.8,783.1 1170.5,781.5 1171.2,779.9 1172.0,778.3 1172.8,776.8 1173.5,775.4 1174.2,774.0 1175.0,772.8 1175.8,771.5 1176.5,770.2 1177.2,768.9 1178.0,767.6 1178.8,766.3 1179.5,765.3 1180.2,764.3 1181.0,763.7 1181.8,763.2 1182.5,763.1 1183.2,763.1 1184.0,763.1 1184.8,763.2 1185.5,763.3 1186.2,763.4 1187.0,763.5 1187.8,763.6 1188.5,763.8 1189.2,764.1 1190.0,765.3 1190.8,766.9 1191.5,768.9 1192.2,771.0 1193.0,772.9 1193.8,774.6 1194.5,775.6 1195.2,775.9 1196.0,775.7 1196.8,775.2 1197.5,774.5 1198.2,773.8 1199.0,773.1 1199.8,772.4 1200.5,771.9 1201.2,771.4 1202.0,770.9 1202.8,770.4 1203.5,769.9 1204.2,769.4 1205.0,769.0 1205.8,768.6 1206.5,768.2 1207.2,767.9 1208.0,767.7 1208.8,767.6 1209.5,767.6 1210.2,767.7 1211.0,768.0 1211.8,768.3 1212.5,768.6 1213.2,769.0 1214.0,769.4 1214.8,769.8 1215.5,770.2 1216.2,770.4 1217.0,770.7 1217.8,770.8 1218.5,770.8 1219.2,770.5 1220.0,770.0 1220.8,769.4 1221.5,768.7 1222.2,767.9 1223.0,767.1 1223.8,766.3 1224.5,765.6 1225.2,765.0 1226.0,764.6 1226.8,764.4 1227.5,764.4 1228.2,764.6 1229.0,764.8 1229.8,765.2 1230.5,765.7 1231.2,766.2 1232.0,766.9 1232.8,767.6 1233.5,768.3 1234.2,769.1 1235.0,770.1 1235.8,771.9 1236.5,774.3 1237.2,776.9 1238.0,779.4 1238.8,781.3 1239.5,782.3 1240.2,782.2 1241.0,781.6 1241.8,780.7 1242.5,779.6 1243.2,778.4 1244.0,777.1 1244.8,776.0 1245.5,775.1 1246.2,774.5 1247.0,774.1 1247.8,773.8 1248.5,773.5 1249.2,773.3 1250.0,773.0 1250.8,772.8 1251.5,772.6 1252.2,772.3 1253.0,771.9 1253.8,771.4 1254.5,770.6 1255.2,769.4 1256.0,768.0 1256.8,767.0 1257.5,766.5 1258.2,766.1 1259.0,765.8 1259.8,765.6 1260.5,765.3 1261.2,765.1 1262.0,764.9 1262.8,764.8 1263.5,764.7 1264.2,764.6 1265.0,764.5 1265.8,764.5 1266.5,764.7 1267.2,765.2 1268.0,766.0 1268.8,767.0 1269.5,768.2 1270.2,769.5 1271.0,770.8 1271.8,772.0 1272.5,773.7 1273.2,775.8 1274.0,778.0 1274.8,780.3 1275.5,782.5 1276.2,784.3 1277.0,785.6 1277.8,786.5 1278.5,787.2 1279.2,787.8 1280.0,788.4 1280.8,788.7 1281.5,788.9 1282.2,788.7 1283.0,788.2 1283.8,787.4 1284.5,786.4 1285.2,785.4 1286.0,784.4 1286.8,783.7 1287.5,783.2 1288.2,783.1 1289.0,783.3 1289.8,783.8 1290.5,784.4 1291.2,785.2 1292.0,786.1 1292.8,787.0 1293.5,787.8 1294.2,788.6 1295.0,789.4 1295.8,790.2 1296.5,791.1 1297.2,792.0 1298.0,792.9 1298.8,793.8 1299.5,794.7 1300.2,795.5 1301.0,796.4 1301.8,797.1 1302.5,797.8 1303.2,798.3 1304.0,798.8 1304.8,799.2 1305.5,799.6 1306.2,799.9 1307.0,800.3 1307.8,800.6 1308.5,800.9 1309.2,801.2 1310.0,801.5 1310.8,801.8 1311.5,802.2 1312.2,802.7 1313.0,803.1 1313.8,803.7 1314.5,804.2 1315.2,804.8 1316.0,805.5 1316.8,806.3 1317.5,807.1 1318.2,808.1 1319.0,809.2 1319.8,810.7 1320.5,812.7 1321.2,815.0 1322.0,817.3 1322.8,819.4 1323.5,821.0 1324.2,822.4 1325.0,823.6 1325.8,824.7 1326.5,825.9 1327.2,827.1 1328.0,828.6 1328.8,830.2 1329.5,832.0 1330.2,833.9 1331.0,836.2 1331.8,838.9 1332.5,842.3 1333.2,846.7 1334.0,851.8 1334.8,857.5 1335.5,863.6 1336.2,871.1 1337.0,881.7 1337.8,890.4 1338.5,888.8 1339.2,885.5 1340.0,880.8 1340.8,872.7 1341.5,854.7 1342.2,843.2 1343.0,834.6 1343.8,827.5 1344.5,821.7 1345.2,817.0 1346.0,812.8 1346.8,809.1 1347.5,805.9 1348.2,803.0 1349.0,800.3 1349.8,797.8 1350.5,795.5 1351.2,793.4 1352.0,791.4 1352.8,789.5 1353.5,787.7 1354.2,786.0 1355.0,784.3 1355.8,782.7 1356.5,781.1 1357.2,779.5 1358.0,777.9 1358.8,776.4 1359.5,775.0 1360.2,773.6 1361.0,772.2 1361.8,770.9 1362.5,769.6 1363.2,768.3 1364.0,767.1 1364.8,766.0 1365.5,764.8 1366.2,763.7 1367.0,762.6 1367.8,761.5 1368.5,760.4 1369.2,759.4 1370.0,758.4 1370.8,757.4 1371.5,756.5 1372.2,755.6 1373.0,754.8 1373.8,754.0 1374.5,753.3 1375.2,752.6 1376.0,751.9 1376.8,751.2 1377.5,750.5 1378.2,749.8 1379.0,749.2 1379.8,748.7 1380.5,748.3 1381.2,748.1 1382.0,748.0 1382.8,748.0 1383.5,748.1 1384.2,748.2 1385.0,748.4 1385.8,748.5 1386.5,748.6 1387.2,748.7 1388.0,748.7 1388.8,748.3 1389.5,747.7 1390.2,746.8 1391.0,745.8 1391.8,744.8 1392.5,743.9 1393.2,743.2 1394.0,742.7 1394.8,742.2 1395.5,741.8 1396.2,741.3 1397.0,741.0 1397.8,740.6 1398.5,740.3 1399.2,740.0 1400.0,739.7 1400.8,739.4 1401.5,739.2 1402.2,738.9 1403.0,738.7 1403.8,738.4 1404.5,738.2 1405.2,738.0 1406.0,737.8 1406.8,737.7 1407.5,737.6 1408.2,737.6 1409.0,737.6 1409.8,737.8 1410.5,738.0 1411.2,738.3 1412.0,738.7 1412.8,739.1 1413.5,739.6 1414.2,740.1 1415.0,740.6 1415.8,741.1 1416.5,741.6 1417.2,742.2 1418.0,743.0 1418.8,744.0 1419.5,745.0 1420.2,746.2 1421.0,747.3 1421.8,748.4 1422.5,749.5 1423.2,750.4 1424.0,751.2 1424.8,751.7 1425.5,752.1 1426.2,752.0 1427.0,751.6 1427.8,750.8 1428.5,749.6 1429.2,748.3 1430.0,746.9 1430.8,745.5 1431.5,744.1 1432.2,742.3 1433.0,740.2 1433.8,738.1 1434.5,736.5 1435.2,735.5 1436.0,734.8 1436.8,734.3 1437.5,733.8 1438.2,733.3 1439.0,732.9 1439.8,732.7 1440.5,732.5 1441.2,732.4 1442.0,732.4 1442.8,732.5 1443.5,732.7 1444.2,732.9 1445.0,733.2 1445.8,733.6 1446.5,734.0 1447.2,734.4 1448.0,735.0 1448.8,735.5 1449.5,736.4 1450.2,737.8 1451.0,739.8 1451.8,742.6 1452.5,749.4 1453.2,760.6 1454.0,774.8 1454.8,790.1 1455.5,801.1 1456.2,810.5 1457.0,818.7 1457.8,826.0 1458.5,833.7 1459.2,838.7 1460.0,838.3 1460.8,834.8 1461.5,829.5 1462.2,822.1 1463.0,808.2 1463.8,771.1 1464.5,762.5 1465.2,757.7 1466.0,755.0 1466.8,753.1 1467.5,751.4 1468.2,750.0 1469.0,748.8 1469.8,747.8 1470.5,747.2 1471.2,746.9 1472.0,747.0 1472.8,747.6 1473.5,748.6 1474.2,750.0 1475.0,751.6 1475.8,753.6 1476.5,758.9 1477.2,765.8 1478.0,770.2 1478.8,770.3 1479.5,769.6 1480.2,768.3 1481.0,766.3 1481.8,763.7 1482.5,752.4 1483.2,747.4 1484.0,745.2 1484.8,743.5 1485.5,742.3 1486.2,741.3 1487.0,740.6 1487.8,739.9 1488.5,739.3 1489.2,738.6 1490.0,738.0 1490.8,737.5 1491.5,737.0 1492.2,736.7 1493.0,736.6 1493.8,736.6 1494.5,736.7 1495.2,736.9 1496.0,737.2 1496.8,737.4 1497.5,737.8 1498.2,738.1 1499.0,738.4 1499.8,738.7 1500.5,739.0 1501.2,739.3 1502.0,739.5 1502.8,739.6 1503.5,739.7 1504.2,739.7 1505.0,739.5 1505.8,739.4 1506.5,739.1 1507.2,738.8 1508.0,738.5 1508.8,738.1 1509.5,737.8 1510.2,737.5 1511.0,737.2 1511.8,736.9 1512.5,736.8 1513.2,736.6 1514.0,736.6 1514.8,736.6 1515.5,736.6 1516.2,736.6 1517.0,736.6 1517.8,736.6 1518.5,736.6 1519.2,736.6 1520.0,736.6 1520.8,736.6 1521.5,736.6 1522.2,736.6 1523.0,736.6 1523.8,736.6 1524.5,736.6 1525.2,736.8 1526.0,737.3 1526.8,738.0 1527.5,738.7 1528.2,739.5 1529.0,740.3 1529.8,740.9 1530.5,741.4 1531.2,741.7 1532.0,741.6 1532.8,741.4 1533.5,741.0 1534.2,740.5 1535.0,740.0 1535.8,739.5 1536.5,739.0 1537.2,738.7 1538.0,738.5 1538.8,738.4 1539.5,738.3 1540.2,738.2 1541.0,738.1 1541.8,738.0 1542.5,737.9 1543.2,737.8 1544.0,737.8 1544.8,737.7 1545.5,737.7 1546.2,737.6 1547.0,737.6 1547.8,737.6 1548.0,737.6" stroke="#505050"/>
</g>
<line x1="482.50" y1="953.75" x2="513.86" y2="950.82" stroke="#000" stroke-width="2.6"/><polygon points="538.75,948.50 512.56,958.48 511.17,943.54" fill="#000"/>
<line x1="695.70" y1="971.70" x2="639.29" y2="961.39" stroke="#000" stroke-width="2.6"/><polygon points="614.70,956.90 642.61,954.38 639.91,969.13" fill="#000"/>
<line x1="1020.40" y1="871.60" x2="1030.21" y2="817.89" stroke="#000" stroke-width="2.6"/><polygon points="1034.70,793.30 1037.23,821.21 1022.47,818.51" fill="#000"/>
<line x1="1390.20" y1="947.50" x2="1357.71" y2="910.57" stroke="#000" stroke-width="2.6"/><polygon points="1341.20,891.80 1364.66,907.12 1353.40,917.03" fill="#000"/>
<g font-family="'Liberation Serif', 'Times New Roman', serif" fill="#000">
<text x="130.4" y="1129.6" font-size="59" text-anchor="middle">4000</text>
<text x="332.7" y="1129.6" font-size="59" text-anchor="middle">3500</text>
<text x="535.2" y="1129.6" font-size="59" text-anchor="middle">3000</text>
<text x="737.7" y="1129.6" font-size="59" text-anchor="middle">2500</text>
<text x="940.3" y="1129.6" font-size="59" text-anchor="middle">2000</text>
<text x="1142.9" y="1129.6" font-size="59" text-anchor="middle">1500</text>
<text x="1345.5" y="1129.6" font-size="59" text-anchor="middle">1000</text>
<text x="1548" y="1129.6" font-size="59" text-anchor="middle">500</text>
<g transform="translate(838.2,0) scale(0.988,1)">
<text x="0" y="1227.8" font-size="55" text-anchor="middle" style="font-kerning:none">Wavenumbers (cm<tspan font-size="36" dy="-21">-1</tspan><tspan dy="21">)</tspan></text>
</g>
<text transform="translate(63.5,540.5) rotate(-90)" font-size="54.3" text-anchor="middle">Transmittance (%)</text>
<text x="176.65" y="175.7" font-size="55" text-anchor="middle">(b)</text>
<text x="171.3" y="473.1" font-size="55" text-anchor="middle">(a)</text>
<text x="259.15" y="823.7" font-size="54.2" text-anchor="middle">Untreated</text>
<text x="432.1" y="970" font-size="54" text-anchor="middle">2962</text>
<text x="749.5" y="987.7" font-size="54" text-anchor="middle">2850</text>
<text x="990.1" y="903.9" font-size="54" text-anchor="middle">1745</text>
<text x="1433.9" y="997.7" font-size="54" text-anchor="middle">1021</text>
</g>
</svg></body></html>
